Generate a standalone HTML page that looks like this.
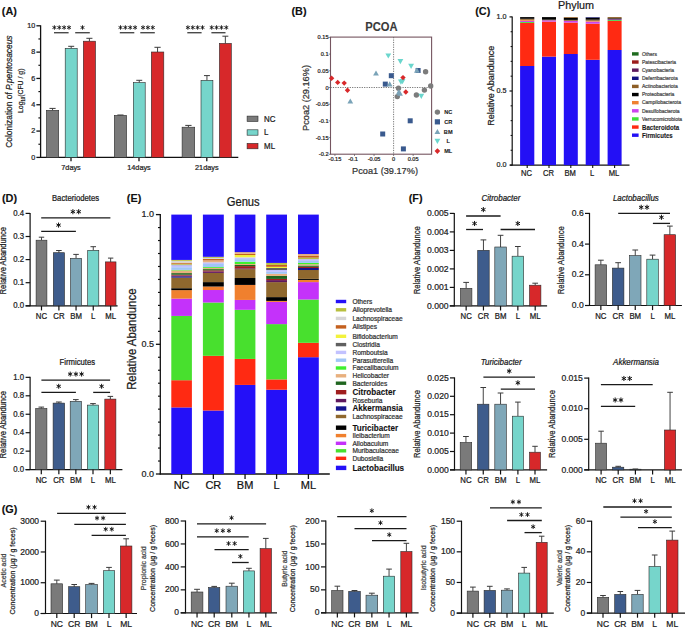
<!DOCTYPE html>
<html><head><meta charset="utf-8"><title>Figure</title>
<style>
html,body{margin:0;padding:0;background:#fff;}
body{width:685px;height:628px;overflow:hidden;}
svg{display:block;font-family:"Liberation Sans",sans-serif;}
text{stroke:currentColor;stroke-width:0.22px;}
</style></head>
<body>
<svg width="685" height="628" viewBox="0 0 685 628">
<rect width="685" height="628" fill="#fff"/>
<text x="0" y="0" font-size="10.9" font-weight="bold" style="stroke-width:0.1px" fill="#111" color="#111" transform="translate(1.85 14.80) scale(1 1.07)">(A)</text>
<line x1="40.60" y1="25.30" x2="40.60" y2="157.90" stroke="#111" stroke-width="1.3"/>
<line x1="36.40" y1="157.40" x2="40.60" y2="157.40" stroke="#111" stroke-width="1.3"/>
<text x="0" y="0" font-size="7.2" text-anchor="end" fill="#222" color="#222" transform="translate(35.20 159.63) scale(1 1.07)">0</text>
<line x1="36.40" y1="131.08" x2="40.60" y2="131.08" stroke="#111" stroke-width="1.3"/>
<text x="0" y="0" font-size="7.2" text-anchor="end" fill="#222" color="#222" transform="translate(35.20 133.31) scale(1 1.07)">2</text>
<line x1="36.40" y1="104.76" x2="40.60" y2="104.76" stroke="#111" stroke-width="1.3"/>
<text x="0" y="0" font-size="7.2" text-anchor="end" fill="#222" color="#222" transform="translate(35.20 106.99) scale(1 1.07)">4</text>
<line x1="36.40" y1="78.44" x2="40.60" y2="78.44" stroke="#111" stroke-width="1.3"/>
<text x="0" y="0" font-size="7.2" text-anchor="end" fill="#222" color="#222" transform="translate(35.20 80.67) scale(1 1.07)">6</text>
<line x1="36.40" y1="52.12" x2="40.60" y2="52.12" stroke="#111" stroke-width="1.3"/>
<text x="0" y="0" font-size="7.2" text-anchor="end" fill="#222" color="#222" transform="translate(35.20 54.35) scale(1 1.07)">8</text>
<line x1="36.40" y1="25.80" x2="40.60" y2="25.80" stroke="#111" stroke-width="1.3"/>
<text x="0" y="0" font-size="7.2" text-anchor="end" fill="#222" color="#222" transform="translate(35.20 28.03) scale(1 1.07)">10</text>
<line x1="38.40" y1="144.24" x2="40.60" y2="144.24" stroke="#111" stroke-width="1.1700000000000002"/>
<line x1="38.40" y1="117.92" x2="40.60" y2="117.92" stroke="#111" stroke-width="1.1700000000000002"/>
<line x1="38.40" y1="91.60" x2="40.60" y2="91.60" stroke="#111" stroke-width="1.1700000000000002"/>
<line x1="38.40" y1="65.28" x2="40.60" y2="65.28" stroke="#111" stroke-width="1.1700000000000002"/>
<line x1="38.40" y1="38.96" x2="40.60" y2="38.96" stroke="#111" stroke-width="1.1700000000000002"/>
<line x1="40.00" y1="157.40" x2="238.30" y2="157.40" stroke="#111" stroke-width="1.3"/>
<line x1="71.00" y1="157.40" x2="71.00" y2="161.30" stroke="#111" stroke-width="1.3"/>
<text x="0" y="0" font-size="7.3" text-anchor="middle" fill="#222" color="#222" transform="translate(71.00 169.60) scale(1 1.07)">7days</text>
<line x1="139.00" y1="157.40" x2="139.00" y2="161.30" stroke="#111" stroke-width="1.3"/>
<text x="0" y="0" font-size="7.3" text-anchor="middle" fill="#222" color="#222" transform="translate(139.00 169.60) scale(1 1.07)">14days</text>
<line x1="206.80" y1="157.40" x2="206.80" y2="161.30" stroke="#111" stroke-width="1.3"/>
<text x="0" y="0" font-size="7.3" text-anchor="middle" fill="#222" color="#222" transform="translate(206.80 169.60) scale(1 1.07)">21days</text>
<line x1="52.55" y1="110.30" x2="52.55" y2="108.40" stroke="#3a3a3a" stroke-width="0.95"/>
<line x1="49.47" y1="108.40" x2="55.62" y2="108.40" stroke="#3a3a3a" stroke-width="1.0"/>
<rect x="46.40" y="110.30" width="12.30" height="47.10" fill="#7a7a7a" stroke="#2a2a2a" stroke-width="0.6"/>
<line x1="71.20" y1="48.30" x2="71.20" y2="46.30" stroke="#3a3a3a" stroke-width="0.95"/>
<line x1="68.20" y1="46.30" x2="74.20" y2="46.30" stroke="#3a3a3a" stroke-width="1.0"/>
<rect x="65.20" y="48.30" width="12.00" height="109.10" fill="#76d5cb" stroke="#2a2a2a" stroke-width="0.6"/>
<line x1="89.40" y1="41.20" x2="89.40" y2="38.30" stroke="#3a3a3a" stroke-width="0.95"/>
<line x1="86.35" y1="38.30" x2="92.45" y2="38.30" stroke="#3a3a3a" stroke-width="1.0"/>
<rect x="83.30" y="41.20" width="12.20" height="116.20" fill="#d7282a" stroke="#2a2a2a" stroke-width="0.6"/>
<line x1="120.45" y1="115.40" x2="120.45" y2="115.00" stroke="#3a3a3a" stroke-width="0.95"/>
<line x1="117.37" y1="115.00" x2="123.52" y2="115.00" stroke="#3a3a3a" stroke-width="1.0"/>
<rect x="114.30" y="115.40" width="12.30" height="42.00" fill="#7a7a7a" stroke="#2a2a2a" stroke-width="0.6"/>
<line x1="139.25" y1="82.60" x2="139.25" y2="80.30" stroke="#3a3a3a" stroke-width="0.95"/>
<line x1="136.28" y1="80.30" x2="142.22" y2="80.30" stroke="#3a3a3a" stroke-width="1.0"/>
<rect x="133.30" y="82.60" width="11.90" height="74.80" fill="#76d5cb" stroke="#2a2a2a" stroke-width="0.6"/>
<line x1="157.55" y1="52.00" x2="157.55" y2="47.30" stroke="#3a3a3a" stroke-width="0.95"/>
<line x1="154.43" y1="47.30" x2="160.68" y2="47.30" stroke="#3a3a3a" stroke-width="1.0"/>
<rect x="151.30" y="52.00" width="12.50" height="105.40" fill="#d7282a" stroke="#2a2a2a" stroke-width="0.6"/>
<line x1="188.40" y1="127.20" x2="188.40" y2="125.40" stroke="#3a3a3a" stroke-width="0.95"/>
<line x1="185.25" y1="125.40" x2="191.55" y2="125.40" stroke="#3a3a3a" stroke-width="1.0"/>
<rect x="182.10" y="127.20" width="12.60" height="30.20" fill="#7a7a7a" stroke="#2a2a2a" stroke-width="0.6"/>
<line x1="206.95" y1="80.40" x2="206.95" y2="75.60" stroke="#3a3a3a" stroke-width="0.95"/>
<line x1="203.97" y1="75.60" x2="209.92" y2="75.60" stroke="#3a3a3a" stroke-width="1.0"/>
<rect x="201.00" y="80.40" width="11.90" height="77.00" fill="#76d5cb" stroke="#2a2a2a" stroke-width="0.6"/>
<line x1="225.35" y1="43.40" x2="225.35" y2="36.20" stroke="#3a3a3a" stroke-width="0.95"/>
<line x1="222.38" y1="36.20" x2="228.33" y2="36.20" stroke="#3a3a3a" stroke-width="1.0"/>
<rect x="219.40" y="43.40" width="11.90" height="114.00" fill="#d7282a" stroke="#2a2a2a" stroke-width="0.6"/>
<line x1="54.00" y1="32.70" x2="68.60" y2="32.70" stroke="#4a4a4a" stroke-width="1.4"/>
<path d="M54.40 29.74L54.40 25.26M52.46 28.62L56.33 26.38M52.46 26.38L56.33 28.62M59.27 29.74L59.27 25.26M57.33 28.62L61.20 26.38M57.33 26.38L61.20 28.62M64.14 29.74L64.14 25.26M62.20 28.62L66.07 26.38M62.20 26.38L66.07 28.62M69.00 29.74L69.00 25.26M67.07 28.62L70.94 26.38M67.07 26.38L70.94 28.62" stroke="#111" stroke-width="0.88" fill="none"/>
<line x1="75.20" y1="32.70" x2="89.80" y2="32.70" stroke="#4a4a4a" stroke-width="1.4"/>
<path d="M82.50 29.74L82.50 25.26M80.56 28.62L84.44 26.38M80.56 26.38L84.44 28.62" stroke="#111" stroke-width="0.88" fill="none"/>
<line x1="119.80" y1="32.70" x2="134.30" y2="32.70" stroke="#4a4a4a" stroke-width="1.4"/>
<path d="M120.50 29.74L120.50 25.26M118.56 28.62L122.43 26.38M118.56 26.38L122.43 28.62M125.36 29.74L125.36 25.26M123.43 28.62L127.30 26.38M123.43 26.38L127.30 28.62M130.23 29.74L130.23 25.26M128.30 28.62L132.17 26.38M128.30 26.38L132.17 28.62M135.10 29.74L135.10 25.26M133.17 28.62L137.04 26.38M133.17 26.38L137.04 28.62" stroke="#111" stroke-width="0.88" fill="none"/>
<line x1="140.30" y1="32.70" x2="154.80" y2="32.70" stroke="#4a4a4a" stroke-width="1.4"/>
<path d="M143.03 29.74L143.03 25.26M141.09 28.62L144.97 26.38M141.09 26.38L144.97 28.62M147.90 29.74L147.90 25.26M145.96 28.62L149.84 26.38M145.96 26.38L149.84 28.62M152.77 29.74L152.77 25.26M150.83 28.62L154.71 26.38M150.83 26.38L154.71 28.62" stroke="#111" stroke-width="0.88" fill="none"/>
<line x1="187.30" y1="32.70" x2="201.60" y2="32.70" stroke="#4a4a4a" stroke-width="1.4"/>
<path d="M187.89 29.74L187.89 25.26M185.96 28.62L189.83 26.38M185.96 26.38L189.83 28.62M192.76 29.74L192.76 25.26M190.83 28.62L194.70 26.38M190.83 26.38L194.70 28.62M197.63 29.74L197.63 25.26M195.70 28.62L199.57 26.38M195.70 26.38L199.57 28.62M202.50 29.74L202.50 25.26M200.57 28.62L204.44 26.38M200.57 26.38L204.44 28.62" stroke="#111" stroke-width="0.88" fill="none"/>
<line x1="211.40" y1="32.70" x2="225.50" y2="32.70" stroke="#4a4a4a" stroke-width="1.4"/>
<path d="M211.69 29.74L211.69 25.26M209.76 28.62L213.63 26.38M209.76 26.38L213.63 28.62M216.56 29.74L216.56 25.26M214.63 28.62L218.50 26.38M214.63 26.38L218.50 28.62M221.44 29.74L221.44 25.26M219.50 28.62L223.37 26.38M219.50 26.38L223.37 28.62M226.31 29.74L226.31 25.26M224.37 28.62L228.24 26.38M224.37 26.38L228.24 28.62" stroke="#111" stroke-width="0.88" fill="none"/>
<rect x="247.10" y="116.10" width="10.90" height="5.40" fill="#7a7a7a" stroke="#2a2a2a" stroke-width="0.6"/>
<text x="0" y="0" font-size="7.9" fill="#222" color="#222" transform="translate(264.10 121.70) scale(1 1.07)">NC</text>
<rect x="247.10" y="129.80" width="10.90" height="5.40" fill="#76d5cb" stroke="#2a2a2a" stroke-width="0.6"/>
<text x="0" y="0" font-size="7.9" fill="#222" color="#222" transform="translate(264.10 135.40) scale(1 1.07)">L</text>
<rect x="247.10" y="143.40" width="10.90" height="5.40" fill="#d7282a" stroke="#2a2a2a" stroke-width="0.6"/>
<text x="0" y="0" font-size="7.9" fill="#222" color="#222" transform="translate(264.10 149.00) scale(1 1.07)">ML</text>
<text x="0" y="0" font-size="8.4" text-anchor="middle" fill="#222" color="#222" transform="translate(12.00 91.60) rotate(-90) scale(1 1.07)">Colonization of <tspan font-style="italic">P.pentosaceus</tspan></text>
<text x="0" y="0" font-size="6.9" text-anchor="middle" fill="#222" color="#222" transform="translate(23.30 90.80) rotate(-90) scale(1 1.07)">Log<tspan font-size="4.2" dy="1.5">10</tspan><tspan dy="-1.5">(CFU / g)</tspan></text>
<text x="0" y="0" font-size="10.9" font-weight="bold" style="stroke-width:0.1px" fill="#111" color="#111" transform="translate(291.40 14.80) scale(1 1.07)">(B)</text>
<text x="0" y="0" font-size="11.2" text-anchor="middle" font-weight="bold" style="stroke-width:0.1px" fill="#3a3a3a" color="#3a3a3a" transform="translate(381.40 31.40) scale(1 1.07)">PCOA</text>
<rect x="330.5" y="37.1" width="101.10" height="117.10" fill="none" stroke="#755560" stroke-width="1.1"/>
<line x1="393.60" y1="37.10" x2="393.60" y2="154.20" stroke="#666" stroke-width="0.9" stroke-dasharray="1.2 1.2"/>
<line x1="330.50" y1="87.50" x2="431.60" y2="87.50" stroke="#666" stroke-width="0.9" stroke-dasharray="1.2 1.2"/>
<line x1="328.70" y1="37.40" x2="330.50" y2="37.40" stroke="#555" stroke-width="0.7"/>
<text x="0" y="0" font-size="5.6" text-anchor="end" fill="#222" color="#222" transform="translate(328.50 39.40) scale(1 1.07)">0.15</text>
<line x1="328.70" y1="54.10" x2="330.50" y2="54.10" stroke="#555" stroke-width="0.7"/>
<text x="0" y="0" font-size="5.6" text-anchor="end" fill="#222" color="#222" transform="translate(328.50 56.10) scale(1 1.07)">0.1</text>
<line x1="328.70" y1="70.80" x2="330.50" y2="70.80" stroke="#555" stroke-width="0.7"/>
<text x="0" y="0" font-size="5.6" text-anchor="end" fill="#222" color="#222" transform="translate(328.50 72.80) scale(1 1.07)">0.05</text>
<line x1="328.70" y1="87.50" x2="330.50" y2="87.50" stroke="#555" stroke-width="0.7"/>
<text x="0" y="0" font-size="5.6" text-anchor="end" fill="#222" color="#222" transform="translate(328.50 89.50) scale(1 1.07)">0</text>
<line x1="328.70" y1="104.20" x2="330.50" y2="104.20" stroke="#555" stroke-width="0.7"/>
<text x="0" y="0" font-size="5.6" text-anchor="end" fill="#222" color="#222" transform="translate(328.50 106.20) scale(1 1.07)">-0.05</text>
<line x1="328.70" y1="120.90" x2="330.50" y2="120.90" stroke="#555" stroke-width="0.7"/>
<text x="0" y="0" font-size="5.6" text-anchor="end" fill="#222" color="#222" transform="translate(328.50 122.90) scale(1 1.07)">-0.1</text>
<line x1="328.70" y1="137.60" x2="330.50" y2="137.60" stroke="#555" stroke-width="0.7"/>
<text x="0" y="0" font-size="5.6" text-anchor="end" fill="#222" color="#222" transform="translate(328.50 139.60) scale(1 1.07)">-0.15</text>
<line x1="328.70" y1="154.30" x2="330.50" y2="154.30" stroke="#555" stroke-width="0.7"/>
<text x="0" y="0" font-size="5.6" text-anchor="end" fill="#222" color="#222" transform="translate(328.50 156.30) scale(1 1.07)">-0.2</text>
<line x1="334.95" y1="154.20" x2="334.95" y2="156.00" stroke="#555" stroke-width="0.7"/>
<text x="0" y="0" font-size="5.6" text-anchor="middle" fill="#222" color="#222" transform="translate(334.95 160.90) scale(1 1.07)">-0.15</text>
<line x1="354.50" y1="154.20" x2="354.50" y2="156.00" stroke="#555" stroke-width="0.7"/>
<text x="0" y="0" font-size="5.6" text-anchor="middle" fill="#222" color="#222" transform="translate(353.00 160.90) scale(1 1.07)">-0.1</text>
<line x1="374.05" y1="154.20" x2="374.05" y2="156.00" stroke="#555" stroke-width="0.7"/>
<text x="0" y="0" font-size="5.6" text-anchor="middle" fill="#222" color="#222" transform="translate(374.05 160.90) scale(1 1.07)">-0.05</text>
<line x1="393.60" y1="154.20" x2="393.60" y2="156.00" stroke="#555" stroke-width="0.7"/>
<text x="0" y="0" font-size="5.6" text-anchor="middle" fill="#222" color="#222" transform="translate(393.60 160.90) scale(1 1.07)">0</text>
<line x1="413.15" y1="154.20" x2="413.15" y2="156.00" stroke="#555" stroke-width="0.7"/>
<text x="0" y="0" font-size="5.6" text-anchor="middle" fill="#222" color="#222" transform="translate(413.15 160.90) scale(1 1.07)">0.05</text>
<text x="0" y="0" font-size="9.2" text-anchor="middle" fill="#333" color="#333" transform="translate(385.00 174.00) scale(1 1.07)">Pcoa1 (39.17%)</text>
<text x="0" y="0" font-size="9.2" text-anchor="middle" fill="#333" color="#333" transform="translate(309.00 98.00) rotate(-90) scale(1 1.07)">Pcoa2 (29.16%)</text>
<circle cx="425.60" cy="71.70" r="2.7" fill="#7c7c7c"/>
<circle cx="430.70" cy="86.00" r="2.7" fill="#7c7c7c"/>
<circle cx="398.50" cy="88.30" r="2.7" fill="#7c7c7c"/>
<circle cx="424.40" cy="90.10" r="2.7" fill="#7c7c7c"/>
<circle cx="416.40" cy="95.00" r="2.7" fill="#7c7c7c"/>
<circle cx="397.30" cy="96.60" r="2.7" fill="#7c7c7c"/>
<rect x="388.80" y="73.20" width="5.0" height="5.0" fill="#3a5a8e"/>
<rect x="382.80" y="81.60" width="5.0" height="5.0" fill="#3a5a8e"/>
<rect x="415.60" y="68.00" width="5.0" height="5.0" fill="#3a5a8e"/>
<rect x="407.70" y="118.30" width="5.0" height="5.0" fill="#3a5a8e"/>
<rect x="380.20" y="131.50" width="5.0" height="5.0" fill="#3a5a8e"/>
<rect x="400.90" y="146.40" width="5.0" height="5.0" fill="#3a5a8e"/>
<polygon points="376.00,70.39 373.10,75.61 378.90,75.61" fill="#7aa3b8"/>
<polygon points="389.70,81.29 386.80,86.51 392.60,86.51" fill="#7aa3b8"/>
<polygon points="416.90,67.49 414.00,72.71 419.80,72.71" fill="#7aa3b8"/>
<polygon points="398.80,89.19 395.90,94.41 401.70,94.41" fill="#7aa3b8"/>
<polygon points="400.00,90.49 397.10,95.71 402.90,95.71" fill="#7aa3b8"/>
<polygon points="350.30,98.39 347.40,103.61 353.20,103.61" fill="#7aa3b8"/>
<polygon points="385.40,53.39 391.20,53.39 388.30,58.61" fill="#6bd6cd"/>
<polygon points="397.50,59.09 403.30,59.09 400.40,64.31" fill="#6bd6cd"/>
<polygon points="408.20,63.69 414.00,63.69 411.10,68.91" fill="#6bd6cd"/>
<polygon points="398.00,79.59 403.80,79.59 400.90,84.81" fill="#6bd6cd"/>
<polygon points="399.60,78.99 405.40,78.99 402.50,84.21" fill="#6bd6cd"/>
<polygon points="418.40,93.79 424.20,93.79 421.30,99.01" fill="#6bd6cd"/>
<polygon points="331.60,75.60 334.30,78.30 331.60,81.00 328.90,78.30" fill="#d8282a"/>
<polygon points="337.70,79.70 340.40,82.40 337.70,85.10 335.00,82.40" fill="#d8282a"/>
<polygon points="344.20,80.40 346.90,83.10 344.20,85.80 341.50,83.10" fill="#d8282a"/>
<polygon points="347.50,87.60 350.20,90.30 347.50,93.00 344.80,90.30" fill="#d8282a"/>
<polygon points="403.00,74.90 405.70,77.60 403.00,80.30 400.30,77.60" fill="#d8282a"/>
<polygon points="405.80,89.30 408.50,92.00 405.80,94.70 403.10,92.00" fill="#d8282a"/>
<circle cx="437.40" cy="112.10" r="2.7" fill="#7c7c7c"/>
<text x="0" y="0" font-size="5.6" text-anchor="middle" font-weight="bold" style="stroke-width:0.1px" fill="#1a1a1a" color="#1a1a1a" transform="translate(448.20 114.10) scale(1 1.07)">NC</text>
<rect x="434.80" y="119.25" width="5.2" height="5.2" fill="#3a5a8e"/>
<text x="0" y="0" font-size="5.6" text-anchor="middle" font-weight="bold" style="stroke-width:0.1px" fill="#1a1a1a" color="#1a1a1a" transform="translate(448.20 123.85) scale(1 1.07)">CR</text>
<polygon points="437.40,128.89 434.50,134.11 440.30,134.11" fill="#7aa3b8"/>
<text x="0" y="0" font-size="5.6" text-anchor="middle" font-weight="bold" style="stroke-width:0.1px" fill="#1a1a1a" color="#1a1a1a" transform="translate(448.20 133.60) scale(1 1.07)">BM</text>
<polygon points="434.50,138.84 440.30,138.84 437.40,144.06" fill="#6bd6cd"/>
<text x="0" y="0" font-size="5.6" text-anchor="middle" font-weight="bold" style="stroke-width:0.1px" fill="#1a1a1a" color="#1a1a1a" transform="translate(448.20 143.35) scale(1 1.07)">L</text>
<polygon points="437.40,148.30 440.20,151.10 437.40,153.90 434.60,151.10" fill="#d8282a"/>
<text x="0" y="0" font-size="5.6" text-anchor="middle" font-weight="bold" style="stroke-width:0.1px" fill="#1a1a1a" color="#1a1a1a" transform="translate(448.20 153.10) scale(1 1.07)">ML</text>
<text x="0" y="0" font-size="10.9" font-weight="bold" style="stroke-width:0.1px" fill="#111" color="#111" transform="translate(475.25 14.70) scale(1 1.07)">(C)</text>
<text x="0" y="0" font-size="10.8" text-anchor="middle" fill="#1a1a1a" color="#1a1a1a" transform="translate(576.10 9.30) scale(1 1.07)">Phylum</text>
<line x1="512.20" y1="16.40" x2="512.20" y2="165.60" stroke="#111" stroke-width="1.2"/>
<line x1="509.50" y1="165.10" x2="512.20" y2="165.10" stroke="#111" stroke-width="1.2"/>
<text x="0" y="0" font-size="7.2" text-anchor="end" fill="#222" color="#222" transform="translate(506.60 167.33) scale(1 1.07)">0.0</text>
<line x1="509.50" y1="91.00" x2="512.20" y2="91.00" stroke="#111" stroke-width="1.2"/>
<text x="0" y="0" font-size="7.2" text-anchor="end" fill="#222" color="#222" transform="translate(506.60 93.23) scale(1 1.07)">0.5</text>
<line x1="509.50" y1="16.90" x2="512.20" y2="16.90" stroke="#111" stroke-width="1.2"/>
<text x="0" y="0" font-size="7.2" text-anchor="end" fill="#222" color="#222" transform="translate(506.60 19.13) scale(1 1.07)">1.0</text>
<line x1="510.60" y1="150.28" x2="512.20" y2="150.28" stroke="#111" stroke-width="1.08"/>
<line x1="510.60" y1="135.46" x2="512.20" y2="135.46" stroke="#111" stroke-width="1.08"/>
<line x1="510.60" y1="120.64" x2="512.20" y2="120.64" stroke="#111" stroke-width="1.08"/>
<line x1="510.60" y1="105.82" x2="512.20" y2="105.82" stroke="#111" stroke-width="1.08"/>
<line x1="510.60" y1="76.18" x2="512.20" y2="76.18" stroke="#111" stroke-width="1.08"/>
<line x1="510.60" y1="61.36" x2="512.20" y2="61.36" stroke="#111" stroke-width="1.08"/>
<line x1="510.60" y1="46.54" x2="512.20" y2="46.54" stroke="#111" stroke-width="1.08"/>
<line x1="510.60" y1="31.72" x2="512.20" y2="31.72" stroke="#111" stroke-width="1.08"/>
<line x1="510.10" y1="165.10" x2="629.50" y2="165.10" stroke="#111" stroke-width="1.2"/>
<rect x="520.10" y="66.00" width="14.20" height="99.10" fill="#2310f5"/>
<rect x="520.10" y="22.90" width="14.20" height="43.10" fill="#ff2a12"/>
<rect x="520.10" y="22.00" width="14.20" height="0.90" fill="#3fe03a"/>
<rect x="520.10" y="20.80" width="14.20" height="1.20" fill="#cc44ee"/>
<rect x="520.10" y="19.80" width="14.20" height="1.00" fill="#ef8030"/>
<rect x="520.10" y="18.80" width="14.20" height="1.00" fill="#8d5e26"/>
<rect x="520.10" y="17.10" width="14.20" height="1.70" fill="#000000"/>
<line x1="527.20" y1="165.10" x2="527.20" y2="168.10" stroke="#111" stroke-width="1.1"/>
<text x="0" y="0" font-size="7.6" text-anchor="middle" fill="#222" color="#222" transform="translate(526.60 175.60) scale(1 1.07)">NC</text>
<rect x="542.00" y="56.60" width="14.00" height="108.50" fill="#2310f5"/>
<rect x="542.00" y="21.60" width="14.00" height="35.00" fill="#ff2a12"/>
<rect x="542.00" y="20.30" width="14.00" height="1.30" fill="#cc44ee"/>
<rect x="542.00" y="19.70" width="14.00" height="0.60" fill="#8d5e26"/>
<rect x="542.00" y="17.10" width="14.00" height="2.60" fill="#000000"/>
<line x1="549.00" y1="165.10" x2="549.00" y2="168.10" stroke="#111" stroke-width="1.1"/>
<text x="0" y="0" font-size="7.6" text-anchor="middle" fill="#222" color="#222" transform="translate(548.40 175.60) scale(1 1.07)">CR</text>
<rect x="563.80" y="54.00" width="14.00" height="111.10" fill="#2310f5"/>
<rect x="563.80" y="22.60" width="14.00" height="31.40" fill="#ff2a12"/>
<rect x="563.80" y="20.80" width="14.00" height="1.80" fill="#cc44ee"/>
<rect x="563.80" y="19.90" width="14.00" height="0.90" fill="#8d5e26"/>
<rect x="563.80" y="17.90" width="14.00" height="2.00" fill="#000000"/>
<rect x="563.80" y="17.10" width="14.00" height="0.80" fill="#8d5e26"/>
<line x1="570.80" y1="165.10" x2="570.80" y2="168.10" stroke="#111" stroke-width="1.1"/>
<text x="0" y="0" font-size="7.6" text-anchor="middle" fill="#222" color="#222" transform="translate(570.20 175.60) scale(1 1.07)">BM</text>
<rect x="585.70" y="59.80" width="14.00" height="105.30" fill="#2310f5"/>
<rect x="585.70" y="23.70" width="14.00" height="36.10" fill="#ff2a12"/>
<rect x="585.70" y="21.60" width="14.00" height="2.10" fill="#cc44ee"/>
<rect x="585.70" y="20.80" width="14.00" height="0.80" fill="#ef8030"/>
<rect x="585.70" y="19.70" width="14.00" height="1.10" fill="#8d5e26"/>
<rect x="585.70" y="17.60" width="14.00" height="2.10" fill="#000000"/>
<rect x="585.70" y="17.10" width="14.00" height="0.50" fill="#121280"/>
<line x1="592.70" y1="165.10" x2="592.70" y2="168.10" stroke="#111" stroke-width="1.1"/>
<text x="0" y="0" font-size="7.6" text-anchor="middle" fill="#222" color="#222" transform="translate(592.10 175.60) scale(1 1.07)">L</text>
<rect x="607.60" y="50.00" width="14.00" height="115.10" fill="#2310f5"/>
<rect x="607.60" y="21.00" width="14.00" height="29.00" fill="#ff2a12"/>
<rect x="607.60" y="20.10" width="14.00" height="0.90" fill="#3fe03a"/>
<rect x="607.60" y="19.40" width="14.00" height="0.70" fill="#cc44ee"/>
<rect x="607.60" y="18.30" width="14.00" height="1.10" fill="#000000"/>
<rect x="607.60" y="17.10" width="14.00" height="1.20" fill="#8d5e26"/>
<line x1="614.60" y1="165.10" x2="614.60" y2="168.10" stroke="#111" stroke-width="1.1"/>
<text x="0" y="0" font-size="7.6" text-anchor="middle" fill="#222" color="#222" transform="translate(614.00 175.60) scale(1 1.07)">ML</text>
<text x="0" y="0" font-size="9.0" text-anchor="middle" fill="#222" color="#222" transform="translate(493.70 85.80) rotate(-90) scale(1 1.07)">Relative Abandunce</text>
<rect x="632.00" y="52.20" width="6.60" height="3.40" fill="#1f6b1f"/>
<text x="0" y="0" font-size="5.0" fill="#4a4a4a" color="#4a4a4a" transform="translate(642.00 55.70) scale(1 1.07)">Others</text>
<rect x="632.00" y="60.33" width="6.60" height="3.40" fill="#9c1c1c"/>
<text x="0" y="0" font-size="5.0" fill="#4a4a4a" color="#4a4a4a" transform="translate(642.00 63.83) scale(1 1.07)">Patescibacteria</text>
<rect x="632.00" y="68.46" width="6.60" height="3.40" fill="#5d1a5d"/>
<text x="0" y="0" font-size="5.0" fill="#4a4a4a" color="#4a4a4a" transform="translate(642.00 71.96) scale(1 1.07)">Cyanobacteria</text>
<rect x="632.00" y="76.59" width="6.60" height="3.40" fill="#121280"/>
<text x="0" y="0" font-size="5.0" fill="#4a4a4a" color="#4a4a4a" transform="translate(642.00 80.09) scale(1 1.07)">Deferribacterota</text>
<rect x="632.00" y="84.72" width="6.60" height="3.40" fill="#8d5e26"/>
<text x="0" y="0" font-size="5.0" fill="#4a4a4a" color="#4a4a4a" transform="translate(642.00 88.22) scale(1 1.07)">Actinobacteriota</text>
<rect x="632.00" y="92.85" width="6.60" height="3.40" fill="#000000"/>
<text x="0" y="0" font-size="5.0" fill="#4a4a4a" color="#4a4a4a" transform="translate(642.00 96.35) scale(1 1.07)">Proteobacteria</text>
<rect x="632.00" y="100.98" width="6.60" height="3.40" fill="#ef8030"/>
<text x="0" y="0" font-size="5.0" fill="#4a4a4a" color="#4a4a4a" transform="translate(642.00 104.48) scale(1 1.07)">Campilobacterota</text>
<rect x="632.00" y="109.11" width="6.60" height="3.40" fill="#cc44ee"/>
<text x="0" y="0" font-size="5.0" fill="#4a4a4a" color="#4a4a4a" transform="translate(642.00 112.61) scale(1 1.07)">Desulfobacterota</text>
<rect x="632.00" y="117.24" width="6.60" height="3.40" fill="#3fe03a"/>
<text x="0" y="0" font-size="5.0" fill="#4a4a4a" color="#4a4a4a" transform="translate(642.00 120.74) scale(1 1.07)">Verrucomicrobiota</text>
<rect x="632.00" y="125.37" width="6.60" height="3.40" fill="#ff2a12"/>
<text x="0" y="0" font-size="6.1" font-weight="bold" style="stroke-width:0.1px" fill="#1a1a1a" color="#1a1a1a" transform="translate(642.00 129.87) scale(1 1.07)">Bacteroidota</text>
<rect x="632.00" y="133.50" width="6.60" height="3.40" fill="#2310f5"/>
<text x="0" y="0" font-size="6.1" font-weight="bold" style="stroke-width:0.1px" fill="#1a1a1a" color="#1a1a1a" transform="translate(642.00 138.00) scale(1 1.07)">Firmicutes</text>
<text x="0" y="0" font-size="10.9" font-weight="bold" style="stroke-width:0.1px" fill="#111" color="#111" transform="translate(1.95 201.90) scale(1 1.07)">(D)</text>
<text x="0" y="0" font-size="7.7" text-anchor="middle" fill="#1a1a1a" color="#1a1a1a" transform="translate(75.50 201.10) scale(1 1.07)">Bacteriodetes</text>
<line x1="30.10" y1="212.90" x2="30.10" y2="306.30" stroke="#111" stroke-width="1.2"/>
<line x1="25.60" y1="305.80" x2="30.10" y2="305.80" stroke="#111" stroke-width="1.2"/>
<text x="0" y="0" font-size="7.8" text-anchor="end" fill="#222" color="#222" transform="translate(24.00 308.22) scale(1 1.07)">0.0</text>
<line x1="25.60" y1="282.70" x2="30.10" y2="282.70" stroke="#111" stroke-width="1.2"/>
<text x="0" y="0" font-size="7.8" text-anchor="end" fill="#222" color="#222" transform="translate(24.00 285.12) scale(1 1.07)">0.1</text>
<line x1="25.60" y1="259.60" x2="30.10" y2="259.60" stroke="#111" stroke-width="1.2"/>
<text x="0" y="0" font-size="7.8" text-anchor="end" fill="#222" color="#222" transform="translate(24.00 262.02) scale(1 1.07)">0.2</text>
<line x1="25.60" y1="236.50" x2="30.10" y2="236.50" stroke="#111" stroke-width="1.2"/>
<text x="0" y="0" font-size="7.8" text-anchor="end" fill="#222" color="#222" transform="translate(24.00 238.92) scale(1 1.07)">0.3</text>
<line x1="25.60" y1="213.40" x2="30.10" y2="213.40" stroke="#111" stroke-width="1.2"/>
<text x="0" y="0" font-size="7.8" text-anchor="end" fill="#222" color="#222" transform="translate(24.00 215.82) scale(1 1.07)">0.4</text>
<line x1="25.60" y1="305.80" x2="117.60" y2="305.80" stroke="#111" stroke-width="1.2"/>
<line x1="41.50" y1="240.20" x2="41.50" y2="237.20" stroke="#3a3a3a" stroke-width="0.95"/>
<line x1="38.80" y1="237.20" x2="44.20" y2="237.20" stroke="#3a3a3a" stroke-width="1.0"/>
<rect x="36.10" y="240.20" width="10.80" height="65.60" fill="#7a7a7a" stroke="#2a2a2a" stroke-width="0.6"/>
<line x1="41.50" y1="305.80" x2="41.50" y2="310.40" stroke="#111" stroke-width="1.2"/>
<text x="0" y="0" font-size="7.8" text-anchor="middle" fill="#1a1a1a" color="#1a1a1a" transform="translate(41.50 318.60) scale(1 1.07)">NC</text>
<line x1="58.90" y1="252.70" x2="58.90" y2="250.50" stroke="#3a3a3a" stroke-width="0.95"/>
<line x1="56.10" y1="250.50" x2="61.70" y2="250.50" stroke="#3a3a3a" stroke-width="1.0"/>
<rect x="53.30" y="252.70" width="11.20" height="53.10" fill="#3e5c8c" stroke="#2a2a2a" stroke-width="0.6"/>
<line x1="58.90" y1="305.80" x2="58.90" y2="310.40" stroke="#111" stroke-width="1.2"/>
<text x="0" y="0" font-size="7.8" text-anchor="middle" fill="#1a1a1a" color="#1a1a1a" transform="translate(58.90 318.60) scale(1 1.07)">CR</text>
<line x1="76.05" y1="258.30" x2="76.05" y2="254.40" stroke="#3a3a3a" stroke-width="0.95"/>
<line x1="73.28" y1="254.40" x2="78.82" y2="254.40" stroke="#3a3a3a" stroke-width="1.0"/>
<rect x="70.50" y="258.30" width="11.10" height="47.50" fill="#7fa7b8" stroke="#2a2a2a" stroke-width="0.6"/>
<line x1="76.05" y1="305.80" x2="76.05" y2="310.40" stroke="#111" stroke-width="1.2"/>
<text x="0" y="0" font-size="7.8" text-anchor="middle" fill="#1a1a1a" color="#1a1a1a" transform="translate(76.05 318.60) scale(1 1.07)">BM</text>
<line x1="93.25" y1="250.30" x2="93.25" y2="246.70" stroke="#3a3a3a" stroke-width="0.95"/>
<line x1="90.47" y1="246.70" x2="96.03" y2="246.70" stroke="#3a3a3a" stroke-width="1.0"/>
<rect x="87.70" y="250.30" width="11.10" height="55.50" fill="#76d5cb" stroke="#2a2a2a" stroke-width="0.6"/>
<line x1="93.25" y1="305.80" x2="93.25" y2="310.40" stroke="#111" stroke-width="1.2"/>
<text x="0" y="0" font-size="7.8" text-anchor="middle" fill="#1a1a1a" color="#1a1a1a" transform="translate(93.25 318.60) scale(1 1.07)">L</text>
<line x1="110.65" y1="261.90" x2="110.65" y2="258.10" stroke="#3a3a3a" stroke-width="0.95"/>
<line x1="107.98" y1="258.10" x2="113.33" y2="258.10" stroke="#3a3a3a" stroke-width="1.0"/>
<rect x="105.30" y="261.90" width="10.70" height="43.90" fill="#d7282a" stroke="#2a2a2a" stroke-width="0.6"/>
<line x1="110.65" y1="305.80" x2="110.65" y2="310.40" stroke="#111" stroke-width="1.2"/>
<text x="0" y="0" font-size="7.8" text-anchor="middle" fill="#1a1a1a" color="#1a1a1a" transform="translate(110.65 318.60) scale(1 1.07)">ML</text>
<line x1="41.20" y1="217.90" x2="110.40" y2="217.90" stroke="#1a1a1a" stroke-width="1.3"/>
<path d="M72.90 214.24L72.90 209.16M70.70 212.97L75.10 210.43M70.70 210.43L75.10 212.97M78.70 214.24L78.70 209.16M76.50 212.97L80.90 210.43M76.50 210.43L80.90 212.97" stroke="#111" stroke-width="1.00" fill="none"/>
<line x1="41.20" y1="231.30" x2="75.90" y2="231.30" stroke="#1a1a1a" stroke-width="1.3"/>
<path d="M58.55 227.64L58.55 222.56M56.35 226.37L60.75 223.83M56.35 223.83L60.75 226.37" stroke="#111" stroke-width="1.00" fill="none"/>
<text x="0" y="0" font-size="7.6" text-anchor="middle" fill="#222" color="#222" transform="translate(6.30 260.75) rotate(-90) scale(1 1.07)">Relative Abandunce</text>
<text x="0" y="0" font-size="7.7" text-anchor="middle" fill="#1a1a1a" color="#1a1a1a" transform="translate(77.30 365.20) scale(1 1.07)">Firmicutes</text>
<line x1="30.10" y1="376.85" x2="30.10" y2="470.10" stroke="#111" stroke-width="1.2"/>
<line x1="25.60" y1="469.60" x2="30.10" y2="469.60" stroke="#111" stroke-width="1.2"/>
<text x="0" y="0" font-size="7.8" text-anchor="end" fill="#222" color="#222" transform="translate(24.00 472.02) scale(1 1.07)">0.0</text>
<line x1="25.60" y1="451.15" x2="30.10" y2="451.15" stroke="#111" stroke-width="1.2"/>
<text x="0" y="0" font-size="7.8" text-anchor="end" fill="#222" color="#222" transform="translate(24.00 453.57) scale(1 1.07)">0.2</text>
<line x1="25.60" y1="432.70" x2="30.10" y2="432.70" stroke="#111" stroke-width="1.2"/>
<text x="0" y="0" font-size="7.8" text-anchor="end" fill="#222" color="#222" transform="translate(24.00 435.12) scale(1 1.07)">0.4</text>
<line x1="25.60" y1="414.25" x2="30.10" y2="414.25" stroke="#111" stroke-width="1.2"/>
<text x="0" y="0" font-size="7.8" text-anchor="end" fill="#222" color="#222" transform="translate(24.00 416.67) scale(1 1.07)">0.6</text>
<line x1="25.60" y1="395.80" x2="30.10" y2="395.80" stroke="#111" stroke-width="1.2"/>
<text x="0" y="0" font-size="7.8" text-anchor="end" fill="#222" color="#222" transform="translate(24.00 398.22) scale(1 1.07)">0.8</text>
<line x1="25.60" y1="377.35" x2="30.10" y2="377.35" stroke="#111" stroke-width="1.2"/>
<text x="0" y="0" font-size="7.8" text-anchor="end" fill="#222" color="#222" transform="translate(24.00 379.77) scale(1 1.07)">1.0</text>
<line x1="25.60" y1="469.60" x2="122.40" y2="469.60" stroke="#111" stroke-width="1.2"/>
<line x1="41.30" y1="408.50" x2="41.30" y2="407.10" stroke="#3a3a3a" stroke-width="0.95"/>
<line x1="38.50" y1="407.10" x2="44.10" y2="407.10" stroke="#3a3a3a" stroke-width="1.0"/>
<rect x="35.70" y="408.50" width="11.20" height="61.10" fill="#7a7a7a" stroke="#2a2a2a" stroke-width="0.6"/>
<line x1="41.30" y1="469.60" x2="41.30" y2="474.20" stroke="#111" stroke-width="1.2"/>
<text x="0" y="0" font-size="7.8" text-anchor="middle" fill="#1a1a1a" color="#1a1a1a" transform="translate(41.30 483.30) scale(1 1.07)">NC</text>
<line x1="58.85" y1="403.10" x2="58.85" y2="402.00" stroke="#3a3a3a" stroke-width="0.95"/>
<line x1="55.97" y1="402.00" x2="61.72" y2="402.00" stroke="#3a3a3a" stroke-width="1.0"/>
<rect x="53.10" y="403.10" width="11.50" height="66.50" fill="#3e5c8c" stroke="#2a2a2a" stroke-width="0.6"/>
<line x1="58.85" y1="469.60" x2="58.85" y2="474.20" stroke="#111" stroke-width="1.2"/>
<text x="0" y="0" font-size="7.8" text-anchor="middle" fill="#1a1a1a" color="#1a1a1a" transform="translate(58.85 483.30) scale(1 1.07)">CR</text>
<line x1="75.85" y1="401.30" x2="75.85" y2="399.60" stroke="#3a3a3a" stroke-width="0.95"/>
<line x1="73.02" y1="399.60" x2="78.67" y2="399.60" stroke="#3a3a3a" stroke-width="1.0"/>
<rect x="70.20" y="401.30" width="11.30" height="68.30" fill="#7fa7b8" stroke="#2a2a2a" stroke-width="0.6"/>
<line x1="75.85" y1="469.60" x2="75.85" y2="474.20" stroke="#111" stroke-width="1.2"/>
<text x="0" y="0" font-size="7.8" text-anchor="middle" fill="#1a1a1a" color="#1a1a1a" transform="translate(75.85 483.30) scale(1 1.07)">BM</text>
<line x1="93.00" y1="405.10" x2="93.00" y2="403.60" stroke="#3a3a3a" stroke-width="0.95"/>
<line x1="90.20" y1="403.60" x2="95.80" y2="403.60" stroke="#3a3a3a" stroke-width="1.0"/>
<rect x="87.40" y="405.10" width="11.20" height="64.50" fill="#76d5cb" stroke="#2a2a2a" stroke-width="0.6"/>
<line x1="93.00" y1="469.60" x2="93.00" y2="474.20" stroke="#111" stroke-width="1.2"/>
<text x="0" y="0" font-size="7.8" text-anchor="middle" fill="#1a1a1a" color="#1a1a1a" transform="translate(93.00 483.30) scale(1 1.07)">L</text>
<line x1="110.35" y1="399.10" x2="110.35" y2="396.40" stroke="#3a3a3a" stroke-width="0.95"/>
<line x1="107.57" y1="396.40" x2="113.12" y2="396.40" stroke="#3a3a3a" stroke-width="1.0"/>
<rect x="104.80" y="399.10" width="11.10" height="70.50" fill="#d7282a" stroke="#2a2a2a" stroke-width="0.6"/>
<line x1="110.35" y1="469.60" x2="110.35" y2="474.20" stroke="#111" stroke-width="1.2"/>
<text x="0" y="0" font-size="7.8" text-anchor="middle" fill="#1a1a1a" color="#1a1a1a" transform="translate(110.35 483.30) scale(1 1.07)">ML</text>
<line x1="41.40" y1="380.20" x2="110.10" y2="380.20" stroke="#1a1a1a" stroke-width="1.3"/>
<path d="M70.20 376.57L70.20 371.63M68.06 375.34L72.34 372.86M68.06 372.86L72.34 375.34M75.90 376.57L75.90 371.63M73.76 375.34L78.04 372.86M73.76 372.86L78.04 375.34M81.60 376.57L81.60 371.63M79.46 375.34L83.74 372.86M79.46 372.86L83.74 375.34" stroke="#111" stroke-width="0.98" fill="none"/>
<line x1="41.40" y1="392.40" x2="75.90" y2="392.40" stroke="#1a1a1a" stroke-width="1.3"/>
<path d="M58.70 388.77L58.70 383.83M56.56 387.54L60.84 385.06M56.56 385.06L60.84 387.54" stroke="#111" stroke-width="0.98" fill="none"/>
<line x1="93.20" y1="392.40" x2="110.10" y2="392.40" stroke="#1a1a1a" stroke-width="1.3"/>
<path d="M101.60 388.77L101.60 383.83M99.46 387.54L103.74 385.06M99.46 385.06L103.74 387.54" stroke="#111" stroke-width="0.98" fill="none"/>
<text x="0" y="0" font-size="7.6" text-anchor="middle" fill="#222" color="#222" transform="translate(6.30 424.70) rotate(-90) scale(1 1.07)">Relative Abandunce</text>
<text x="0" y="0" font-size="10.9" font-weight="bold" style="stroke-width:0.1px" fill="#111" color="#111" transform="translate(126.85 201.50) scale(1 1.07)">(E)</text>
<text x="0" y="0" font-size="11.2" text-anchor="middle" fill="#1a1a1a" color="#1a1a1a" transform="translate(243.20 206.40) scale(1 1.07)">Genus</text>
<line x1="160.30" y1="214.10" x2="160.30" y2="474.50" stroke="#111" stroke-width="1.3"/>
<line x1="155.90" y1="474.00" x2="160.30" y2="474.00" stroke="#111" stroke-width="1.3"/>
<text x="0" y="0" font-size="9.0" text-anchor="end" fill="#222" color="#222" transform="translate(153.90 476.79) scale(1 1.07)">0.0</text>
<line x1="155.90" y1="344.30" x2="160.30" y2="344.30" stroke="#111" stroke-width="1.3"/>
<text x="0" y="0" font-size="9.0" text-anchor="end" fill="#222" color="#222" transform="translate(153.90 347.09) scale(1 1.07)">0.5</text>
<line x1="155.90" y1="214.60" x2="160.30" y2="214.60" stroke="#111" stroke-width="1.3"/>
<text x="0" y="0" font-size="9.0" text-anchor="end" fill="#222" color="#222" transform="translate(153.90 217.39) scale(1 1.07)">1.0</text>
<line x1="158.00" y1="461.03" x2="160.30" y2="461.03" stroke="#111" stroke-width="1.1700000000000002"/>
<line x1="158.00" y1="448.06" x2="160.30" y2="448.06" stroke="#111" stroke-width="1.1700000000000002"/>
<line x1="158.00" y1="435.09" x2="160.30" y2="435.09" stroke="#111" stroke-width="1.1700000000000002"/>
<line x1="158.00" y1="422.12" x2="160.30" y2="422.12" stroke="#111" stroke-width="1.1700000000000002"/>
<line x1="158.00" y1="409.15" x2="160.30" y2="409.15" stroke="#111" stroke-width="1.1700000000000002"/>
<line x1="158.00" y1="396.18" x2="160.30" y2="396.18" stroke="#111" stroke-width="1.1700000000000002"/>
<line x1="158.00" y1="383.21" x2="160.30" y2="383.21" stroke="#111" stroke-width="1.1700000000000002"/>
<line x1="158.00" y1="370.24" x2="160.30" y2="370.24" stroke="#111" stroke-width="1.1700000000000002"/>
<line x1="158.00" y1="357.27" x2="160.30" y2="357.27" stroke="#111" stroke-width="1.1700000000000002"/>
<line x1="158.00" y1="331.33" x2="160.30" y2="331.33" stroke="#111" stroke-width="1.1700000000000002"/>
<line x1="158.00" y1="318.36" x2="160.30" y2="318.36" stroke="#111" stroke-width="1.1700000000000002"/>
<line x1="158.00" y1="305.39" x2="160.30" y2="305.39" stroke="#111" stroke-width="1.1700000000000002"/>
<line x1="158.00" y1="292.42" x2="160.30" y2="292.42" stroke="#111" stroke-width="1.1700000000000002"/>
<line x1="158.00" y1="279.45" x2="160.30" y2="279.45" stroke="#111" stroke-width="1.1700000000000002"/>
<line x1="158.00" y1="266.48" x2="160.30" y2="266.48" stroke="#111" stroke-width="1.1700000000000002"/>
<line x1="158.00" y1="253.51" x2="160.30" y2="253.51" stroke="#111" stroke-width="1.1700000000000002"/>
<line x1="158.00" y1="240.54" x2="160.30" y2="240.54" stroke="#111" stroke-width="1.1700000000000002"/>
<line x1="158.00" y1="227.57" x2="160.30" y2="227.57" stroke="#111" stroke-width="1.1700000000000002"/>
<line x1="159.70" y1="474.00" x2="329.80" y2="474.00" stroke="#111" stroke-width="1.3"/>
<rect x="171.30" y="407.40" width="20.60" height="66.62" fill="#2410f8"/>
<rect x="171.30" y="380.20" width="20.60" height="27.22" fill="#ff2a12"/>
<rect x="171.30" y="315.90" width="20.60" height="64.32" fill="#48e02e"/>
<rect x="171.30" y="298.60" width="20.60" height="17.32" fill="#c432fa"/>
<rect x="171.30" y="290.10" width="20.60" height="8.52" fill="#f0802e"/>
<rect x="171.30" y="288.20" width="20.60" height="1.92" fill="#000000"/>
<rect x="171.30" y="277.60" width="20.60" height="10.62" fill="#8f682e"/>
<rect x="171.30" y="276.30" width="20.60" height="1.32" fill="#14148e"/>
<rect x="171.30" y="275.50" width="20.60" height="0.82" fill="#5e185e"/>
<rect x="171.30" y="274.70" width="20.60" height="0.82" fill="#a01e1e"/>
<rect x="171.30" y="273.10" width="20.60" height="1.62" fill="#1f651f"/>
<rect x="171.30" y="270.40" width="20.60" height="2.72" fill="#e8b07e"/>
<rect x="171.30" y="269.90" width="20.60" height="0.52" fill="#3ef02e"/>
<rect x="171.30" y="267.20" width="20.60" height="2.72" fill="#a0c6f6"/>
<rect x="171.30" y="265.10" width="20.60" height="2.12" fill="#c2c2ff"/>
<rect x="171.30" y="264.40" width="20.60" height="0.72" fill="#606060"/>
<rect x="171.30" y="263.70" width="20.60" height="0.72" fill="#f2f23c"/>
<rect x="171.30" y="262.70" width="20.60" height="1.02" fill="#c4601e"/>
<rect x="171.30" y="260.80" width="20.60" height="1.92" fill="#d6d6d6"/>
<rect x="171.30" y="259.90" width="20.60" height="0.92" fill="#b8bf3e"/>
<rect x="171.30" y="214.60" width="20.60" height="45.32" fill="#2410f8"/>
<line x1="181.60" y1="474.00" x2="181.60" y2="479.00" stroke="#111" stroke-width="1.3"/>
<text x="0" y="0" font-size="11.0" text-anchor="middle" fill="#111" color="#111" transform="translate(181.60 489.20) scale(1 1.07)">NC</text>
<rect x="202.90" y="410.50" width="20.90" height="63.52" fill="#2410f8"/>
<rect x="202.90" y="355.80" width="20.90" height="54.72" fill="#ff2a12"/>
<rect x="202.90" y="302.50" width="20.90" height="53.32" fill="#48e02e"/>
<rect x="202.90" y="290.00" width="20.90" height="12.52" fill="#c432fa"/>
<rect x="202.90" y="286.50" width="20.90" height="3.52" fill="#f0802e"/>
<rect x="202.90" y="282.10" width="20.90" height="4.42" fill="#000000"/>
<rect x="202.90" y="272.90" width="20.90" height="9.22" fill="#8f682e"/>
<rect x="202.90" y="271.40" width="20.90" height="1.52" fill="#5e185e"/>
<rect x="202.90" y="270.30" width="20.90" height="1.12" fill="#a01e1e"/>
<rect x="202.90" y="269.10" width="20.90" height="1.22" fill="#1f651f"/>
<rect x="202.90" y="267.80" width="20.90" height="1.32" fill="#e8b07e"/>
<rect x="202.90" y="267.00" width="20.90" height="0.82" fill="#3ef02e"/>
<rect x="202.90" y="264.00" width="20.90" height="3.02" fill="#a0c6f6"/>
<rect x="202.90" y="262.30" width="20.90" height="1.72" fill="#c2c2ff"/>
<rect x="202.90" y="260.40" width="20.90" height="1.92" fill="#e8b07e"/>
<rect x="202.90" y="258.90" width="20.90" height="1.52" fill="#c4601e"/>
<rect x="202.90" y="257.80" width="20.90" height="1.12" fill="#d6d6d6"/>
<rect x="202.90" y="256.80" width="20.90" height="1.02" fill="#b8bf3e"/>
<rect x="202.90" y="214.60" width="20.90" height="42.22" fill="#2410f8"/>
<line x1="213.35" y1="474.00" x2="213.35" y2="479.00" stroke="#111" stroke-width="1.3"/>
<text x="0" y="0" font-size="11.0" text-anchor="middle" fill="#111" color="#111" transform="translate(213.35 489.20) scale(1 1.07)">CR</text>
<rect x="234.70" y="384.90" width="20.70" height="89.12" fill="#2410f8"/>
<rect x="234.70" y="358.90" width="20.70" height="26.02" fill="#ff2a12"/>
<rect x="234.70" y="309.80" width="20.70" height="49.12" fill="#48e02e"/>
<rect x="234.70" y="299.90" width="20.70" height="9.92" fill="#c432fa"/>
<rect x="234.70" y="284.90" width="20.70" height="15.02" fill="#f0802e"/>
<rect x="234.70" y="278.00" width="20.70" height="6.92" fill="#000000"/>
<rect x="234.70" y="269.10" width="20.70" height="8.92" fill="#8f682e"/>
<rect x="234.70" y="268.30" width="20.70" height="0.82" fill="#5e185e"/>
<rect x="234.70" y="266.10" width="20.70" height="2.22" fill="#a01e1e"/>
<rect x="234.70" y="265.00" width="20.70" height="1.12" fill="#1f651f"/>
<rect x="234.70" y="264.00" width="20.70" height="1.02" fill="#e8b07e"/>
<rect x="234.70" y="261.70" width="20.70" height="2.32" fill="#3ef02e"/>
<rect x="234.70" y="259.10" width="20.70" height="2.62" fill="#a0c6f6"/>
<rect x="234.70" y="257.80" width="20.70" height="1.32" fill="#c2c2ff"/>
<rect x="234.70" y="257.20" width="20.70" height="0.62" fill="#d6d6d6"/>
<rect x="234.70" y="255.00" width="20.70" height="2.22" fill="#f2f23c"/>
<rect x="234.70" y="253.80" width="20.70" height="1.22" fill="#c4601e"/>
<rect x="234.70" y="252.10" width="20.70" height="1.72" fill="#e8b07e"/>
<rect x="234.70" y="214.60" width="20.70" height="37.52" fill="#2410f8"/>
<line x1="245.05" y1="474.00" x2="245.05" y2="479.00" stroke="#111" stroke-width="1.3"/>
<text x="0" y="0" font-size="11.0" text-anchor="middle" fill="#111" color="#111" transform="translate(245.05 489.20) scale(1 1.07)">BM</text>
<rect x="266.20" y="389.70" width="20.80" height="84.32" fill="#2410f8"/>
<rect x="266.20" y="379.40" width="20.80" height="10.32" fill="#ff2a12"/>
<rect x="266.20" y="324.10" width="20.80" height="55.32" fill="#48e02e"/>
<rect x="266.20" y="301.90" width="20.80" height="22.22" fill="#c432fa"/>
<rect x="266.20" y="300.90" width="20.80" height="1.02" fill="#f0802e"/>
<rect x="266.20" y="297.10" width="20.80" height="3.82" fill="#000000"/>
<rect x="266.20" y="282.10" width="20.80" height="15.02" fill="#8f682e"/>
<rect x="266.20" y="280.10" width="20.80" height="2.02" fill="#5e185e"/>
<rect x="266.20" y="278.90" width="20.80" height="1.22" fill="#a01e1e"/>
<rect x="266.20" y="275.90" width="20.80" height="3.02" fill="#1f651f"/>
<rect x="266.20" y="273.80" width="20.80" height="2.12" fill="#e8b07e"/>
<rect x="266.20" y="271.90" width="20.80" height="1.92" fill="#a0c6f6"/>
<rect x="266.20" y="270.00" width="20.80" height="1.92" fill="#c2c2ff"/>
<rect x="266.20" y="268.00" width="20.80" height="2.02" fill="#606060"/>
<rect x="266.20" y="266.80" width="20.80" height="1.22" fill="#f2f23c"/>
<rect x="266.20" y="264.90" width="20.80" height="1.92" fill="#c4601e"/>
<rect x="266.20" y="262.90" width="20.80" height="2.02" fill="#b8bf3e"/>
<rect x="266.20" y="214.60" width="20.80" height="48.32" fill="#2410f8"/>
<line x1="276.60" y1="474.00" x2="276.60" y2="479.00" stroke="#111" stroke-width="1.3"/>
<text x="0" y="0" font-size="11.0" text-anchor="middle" fill="#111" color="#111" transform="translate(276.60 489.20) scale(1 1.07)">L</text>
<rect x="298.00" y="357.20" width="20.80" height="116.82" fill="#2410f8"/>
<rect x="298.00" y="342.80" width="20.80" height="14.42" fill="#ff2a12"/>
<rect x="298.00" y="299.50" width="20.80" height="43.32" fill="#48e02e"/>
<rect x="298.00" y="282.10" width="20.80" height="17.42" fill="#c432fa"/>
<rect x="298.00" y="279.90" width="20.80" height="2.22" fill="#f0802e"/>
<rect x="298.00" y="278.90" width="20.80" height="1.02" fill="#000000"/>
<rect x="298.00" y="270.00" width="20.80" height="8.92" fill="#8f682e"/>
<rect x="298.00" y="268.00" width="20.80" height="2.02" fill="#14148e"/>
<rect x="298.00" y="266.80" width="20.80" height="1.22" fill="#a01e1e"/>
<rect x="298.00" y="265.50" width="20.80" height="1.32" fill="#1f651f"/>
<rect x="298.00" y="264.20" width="20.80" height="1.32" fill="#e8b07e"/>
<rect x="298.00" y="262.90" width="20.80" height="1.32" fill="#3ef02e"/>
<rect x="298.00" y="261.00" width="20.80" height="1.92" fill="#a0c6f6"/>
<rect x="298.00" y="259.10" width="20.80" height="1.92" fill="#c2c2ff"/>
<rect x="298.00" y="257.60" width="20.80" height="1.52" fill="#b8bf3e"/>
<rect x="298.00" y="255.50" width="20.80" height="2.12" fill="#c4601e"/>
<rect x="298.00" y="254.00" width="20.80" height="1.52" fill="#e8b07e"/>
<rect x="298.00" y="214.60" width="20.80" height="39.42" fill="#2410f8"/>
<line x1="308.40" y1="474.00" x2="308.40" y2="479.00" stroke="#111" stroke-width="1.3"/>
<text x="0" y="0" font-size="11.0" text-anchor="middle" fill="#111" color="#111" transform="translate(308.40 489.20) scale(1 1.07)">ML</text>
<text x="0" y="0" font-size="11.4" text-anchor="middle" fill="#1a1a1a" color="#1a1a1a" transform="translate(135.80 339.20) rotate(-90) scale(1 1.07)">Relative Abandunce</text>
<rect x="335.80" y="299.80" width="10.40" height="3.40" fill="#2410f8"/>
<text x="0" y="0" font-size="6.6" fill="#333" color="#333" transform="translate(352.40 303.90) scale(1 1.07)">Others</text>
<rect x="335.80" y="308.10" width="10.40" height="3.40" fill="#b8bf3e"/>
<text x="0" y="0" font-size="6.6" fill="#333" color="#333" transform="translate(352.40 312.20) scale(1 1.07)">Alloprevotella</text>
<rect x="335.80" y="316.70" width="10.40" height="3.40" fill="#d6d6d6"/>
<text x="0" y="0" font-size="6.6" fill="#333" color="#333" transform="translate(352.40 320.80) scale(1 1.07)">Lachnospiraceae</text>
<rect x="335.80" y="325.20" width="10.40" height="3.40" fill="#c4601e"/>
<text x="0" y="0" font-size="6.6" fill="#333" color="#333" transform="translate(352.40 329.30) scale(1 1.07)">Alistipes</text>
<rect x="335.80" y="334.60" width="10.40" height="3.40" fill="#f2f23c"/>
<text x="0" y="0" font-size="6.6" fill="#333" color="#333" transform="translate(352.40 338.70) scale(1 1.07)">Bifidobacterium</text>
<rect x="335.80" y="342.90" width="10.40" height="3.40" fill="#606060"/>
<text x="0" y="0" font-size="6.6" fill="#333" color="#333" transform="translate(352.40 347.00) scale(1 1.07)">Clostridia</text>
<rect x="335.80" y="350.70" width="10.40" height="3.40" fill="#c2c2ff"/>
<text x="0" y="0" font-size="6.6" fill="#333" color="#333" transform="translate(352.40 354.80) scale(1 1.07)">Romboutsia</text>
<rect x="335.80" y="358.50" width="10.40" height="3.40" fill="#a0c6f6"/>
<text x="0" y="0" font-size="6.6" fill="#333" color="#333" transform="translate(352.40 362.60) scale(1 1.07)">Parasutterella</text>
<rect x="335.80" y="366.30" width="10.40" height="3.40" fill="#3ef02e"/>
<text x="0" y="0" font-size="6.6" fill="#333" color="#333" transform="translate(352.40 370.40) scale(1 1.07)">Faecalibaculum</text>
<rect x="335.80" y="374.10" width="10.40" height="3.40" fill="#e8b07e"/>
<text x="0" y="0" font-size="6.6" fill="#333" color="#333" transform="translate(352.40 378.20) scale(1 1.07)">Helicobacter</text>
<rect x="335.80" y="381.50" width="10.40" height="3.40" fill="#1f651f"/>
<text x="0" y="0" font-size="6.6" fill="#333" color="#333" transform="translate(352.40 385.60) scale(1 1.07)">Bacteroides</text>
<rect x="335.90" y="390.00" width="10.40" height="4.40" fill="#a01e1e"/>
<text x="0" y="0" font-size="8.1" font-weight="bold" style="stroke-width:0.1px" fill="#111" color="#111" transform="translate(352.40 395.10) scale(1 1.07)">Citrobacter</text>
<rect x="335.80" y="398.90" width="10.40" height="3.40" fill="#5e185e"/>
<text x="0" y="0" font-size="6.6" fill="#333" color="#333" transform="translate(352.40 403.00) scale(1 1.07)">Roseburia</text>
<rect x="335.90" y="406.30" width="10.40" height="4.40" fill="#14148e"/>
<text x="0" y="0" font-size="8.1" font-weight="bold" style="stroke-width:0.1px" fill="#111" color="#111" transform="translate(352.40 411.40) scale(1 1.07)">Akkermansia</text>
<rect x="335.80" y="414.80" width="10.40" height="3.40" fill="#8f682e"/>
<text x="0" y="0" font-size="6.6" fill="#333" color="#333" transform="translate(352.40 418.90) scale(1 1.07)">Lachnospiraceae</text>
<rect x="335.90" y="425.50" width="10.40" height="4.40" fill="#000000"/>
<text x="0" y="0" font-size="8.1" font-weight="bold" style="stroke-width:0.1px" fill="#111" color="#111" transform="translate(352.40 430.60) scale(1 1.07)">Turicibacter</text>
<rect x="335.80" y="433.90" width="10.40" height="3.40" fill="#f0802e"/>
<text x="0" y="0" font-size="6.6" fill="#333" color="#333" transform="translate(352.40 438.00) scale(1 1.07)">Ileibacterium</text>
<rect x="335.80" y="441.60" width="10.40" height="3.40" fill="#c432fa"/>
<text x="0" y="0" font-size="6.6" fill="#333" color="#333" transform="translate(352.40 445.70) scale(1 1.07)">Allobaculum</text>
<rect x="335.80" y="449.10" width="10.40" height="3.40" fill="#48e02e"/>
<text x="0" y="0" font-size="6.6" fill="#333" color="#333" transform="translate(352.40 453.20) scale(1 1.07)">Muribaculaceae</text>
<rect x="335.80" y="456.60" width="10.40" height="3.40" fill="#ff2a12"/>
<text x="0" y="0" font-size="6.6" fill="#333" color="#333" transform="translate(352.40 460.70) scale(1 1.07)">Dubosiella</text>
<rect x="335.90" y="465.70" width="10.40" height="4.40" fill="#2410f8"/>
<text x="0" y="0" font-size="8.1" font-weight="bold" style="stroke-width:0.1px" fill="#111" color="#111" transform="translate(352.40 470.80) scale(1 1.07)">Lactobacillus</text>
<text x="0" y="0" font-size="10.9" font-weight="bold" style="stroke-width:0.1px" fill="#111" color="#111" transform="translate(408.75 201.90) scale(1 1.07)">(F)</text>
<text x="0" y="0" font-size="7.95" text-anchor="middle" font-style="italic" fill="#1a1a1a" color="#1a1a1a" transform="translate(500.90 201.30) scale(1 1.07)">Citrobacter</text>
<line x1="454.30" y1="212.90" x2="454.30" y2="306.40" stroke="#111" stroke-width="1.2"/>
<line x1="449.80" y1="305.90" x2="454.30" y2="305.90" stroke="#111" stroke-width="1.2"/>
<text x="0" y="0" font-size="8.6" text-anchor="end" fill="#222" color="#222" transform="translate(448.50 308.57) scale(1 1.07)">0.000</text>
<line x1="449.80" y1="287.40" x2="454.30" y2="287.40" stroke="#111" stroke-width="1.2"/>
<text x="0" y="0" font-size="8.6" text-anchor="end" fill="#222" color="#222" transform="translate(448.50 290.07) scale(1 1.07)">0.001</text>
<line x1="449.80" y1="268.90" x2="454.30" y2="268.90" stroke="#111" stroke-width="1.2"/>
<text x="0" y="0" font-size="8.6" text-anchor="end" fill="#222" color="#222" transform="translate(448.50 271.57) scale(1 1.07)">0.002</text>
<line x1="449.80" y1="250.40" x2="454.30" y2="250.40" stroke="#111" stroke-width="1.2"/>
<text x="0" y="0" font-size="8.6" text-anchor="end" fill="#222" color="#222" transform="translate(448.50 253.07) scale(1 1.07)">0.003</text>
<line x1="449.80" y1="231.90" x2="454.30" y2="231.90" stroke="#111" stroke-width="1.2"/>
<text x="0" y="0" font-size="8.6" text-anchor="end" fill="#222" color="#222" transform="translate(448.50 234.57) scale(1 1.07)">0.004</text>
<line x1="449.80" y1="213.40" x2="454.30" y2="213.40" stroke="#111" stroke-width="1.2"/>
<text x="0" y="0" font-size="8.6" text-anchor="end" fill="#222" color="#222" transform="translate(448.50 216.07) scale(1 1.07)">0.005</text>
<line x1="449.80" y1="305.90" x2="547.10" y2="305.90" stroke="#111" stroke-width="1.2"/>
<line x1="466.15" y1="288.30" x2="466.15" y2="282.40" stroke="#3a3a3a" stroke-width="0.95"/>
<line x1="463.27" y1="282.40" x2="469.02" y2="282.40" stroke="#3a3a3a" stroke-width="1.0"/>
<rect x="460.40" y="288.30" width="11.50" height="17.60" fill="#7a7a7a" stroke="#2a2a2a" stroke-width="0.6"/>
<line x1="466.15" y1="305.90" x2="466.15" y2="310.50" stroke="#111" stroke-width="1.2"/>
<text x="0" y="0" font-size="7.8" text-anchor="middle" fill="#1a1a1a" color="#1a1a1a" transform="translate(466.15 318.80) scale(1 1.07)">NC</text>
<line x1="483.45" y1="250.30" x2="483.45" y2="239.90" stroke="#3a3a3a" stroke-width="0.95"/>
<line x1="480.57" y1="239.90" x2="486.32" y2="239.90" stroke="#3a3a3a" stroke-width="1.0"/>
<rect x="477.70" y="250.30" width="11.50" height="55.60" fill="#3e5c8c" stroke="#2a2a2a" stroke-width="0.6"/>
<line x1="483.45" y1="305.90" x2="483.45" y2="310.50" stroke="#111" stroke-width="1.2"/>
<text x="0" y="0" font-size="7.8" text-anchor="middle" fill="#1a1a1a" color="#1a1a1a" transform="translate(483.45 318.80) scale(1 1.07)">CR</text>
<line x1="500.55" y1="247.00" x2="500.55" y2="235.30" stroke="#3a3a3a" stroke-width="0.95"/>
<line x1="497.68" y1="235.30" x2="503.43" y2="235.30" stroke="#3a3a3a" stroke-width="1.0"/>
<rect x="494.80" y="247.00" width="11.50" height="58.90" fill="#7fa7b8" stroke="#2a2a2a" stroke-width="0.6"/>
<line x1="500.55" y1="305.90" x2="500.55" y2="310.50" stroke="#111" stroke-width="1.2"/>
<text x="0" y="0" font-size="7.8" text-anchor="middle" fill="#1a1a1a" color="#1a1a1a" transform="translate(500.55 318.80) scale(1 1.07)">BM</text>
<line x1="517.85" y1="256.20" x2="517.85" y2="246.50" stroke="#3a3a3a" stroke-width="0.95"/>
<line x1="514.98" y1="246.50" x2="520.73" y2="246.50" stroke="#3a3a3a" stroke-width="1.0"/>
<rect x="512.10" y="256.20" width="11.50" height="49.70" fill="#76d5cb" stroke="#2a2a2a" stroke-width="0.6"/>
<line x1="517.85" y1="305.90" x2="517.85" y2="310.50" stroke="#111" stroke-width="1.2"/>
<text x="0" y="0" font-size="7.8" text-anchor="middle" fill="#1a1a1a" color="#1a1a1a" transform="translate(517.85 318.80) scale(1 1.07)">L</text>
<line x1="535.20" y1="285.20" x2="535.20" y2="283.20" stroke="#3a3a3a" stroke-width="0.95"/>
<line x1="532.35" y1="283.20" x2="538.05" y2="283.20" stroke="#3a3a3a" stroke-width="1.0"/>
<rect x="529.50" y="285.20" width="11.40" height="20.70" fill="#d7282a" stroke="#2a2a2a" stroke-width="0.6"/>
<line x1="535.20" y1="305.90" x2="535.20" y2="310.50" stroke="#111" stroke-width="1.2"/>
<text x="0" y="0" font-size="7.8" text-anchor="middle" fill="#1a1a1a" color="#1a1a1a" transform="translate(535.20 318.80) scale(1 1.07)">ML</text>
<line x1="466.10" y1="216.00" x2="500.60" y2="216.00" stroke="#1a1a1a" stroke-width="1.3"/>
<path d="M483.35 212.14L483.35 207.06M481.15 210.87L485.55 208.33M481.15 208.33L485.55 210.87" stroke="#111" stroke-width="1.00" fill="none"/>
<line x1="466.10" y1="229.50" x2="483.00" y2="229.50" stroke="#1a1a1a" stroke-width="1.3"/>
<path d="M474.55 226.04L474.55 220.96M472.35 224.77L476.75 222.23M472.35 222.23L476.75 224.77" stroke="#111" stroke-width="1.00" fill="none"/>
<line x1="500.60" y1="229.50" x2="535.00" y2="229.50" stroke="#1a1a1a" stroke-width="1.3"/>
<path d="M517.80 226.04L517.80 220.96M515.60 224.77L520.00 222.23M515.60 222.23L520.00 224.77" stroke="#111" stroke-width="1.00" fill="none"/>
<text x="0" y="0" font-size="7.65" text-anchor="middle" fill="#222" color="#222" transform="translate(419.60 260.25) rotate(-90) scale(1 1.07)">Relative Abandunce</text>
<text x="0" y="0" font-size="7.95" text-anchor="middle" font-style="italic" fill="#1a1a1a" color="#1a1a1a" transform="translate(635.85 201.30) scale(1 1.07)">Lactobacillus</text>
<line x1="589.50" y1="212.90" x2="589.50" y2="306.00" stroke="#111" stroke-width="1.2"/>
<line x1="585.00" y1="305.50" x2="589.50" y2="305.50" stroke="#111" stroke-width="1.2"/>
<text x="0" y="0" font-size="8.6" text-anchor="end" fill="#222" color="#222" transform="translate(583.70 308.17) scale(1 1.07)">0.0</text>
<line x1="585.00" y1="274.80" x2="589.50" y2="274.80" stroke="#111" stroke-width="1.2"/>
<text x="0" y="0" font-size="8.6" text-anchor="end" fill="#222" color="#222" transform="translate(583.70 277.47) scale(1 1.07)">0.2</text>
<line x1="585.00" y1="244.10" x2="589.50" y2="244.10" stroke="#111" stroke-width="1.2"/>
<text x="0" y="0" font-size="8.6" text-anchor="end" fill="#222" color="#222" transform="translate(583.70 246.77) scale(1 1.07)">0.4</text>
<line x1="585.00" y1="213.40" x2="589.50" y2="213.40" stroke="#111" stroke-width="1.2"/>
<text x="0" y="0" font-size="8.6" text-anchor="end" fill="#222" color="#222" transform="translate(583.70 216.07) scale(1 1.07)">0.6</text>
<line x1="585.00" y1="305.50" x2="681.90" y2="305.50" stroke="#111" stroke-width="1.2"/>
<line x1="600.85" y1="264.80" x2="600.85" y2="260.20" stroke="#3a3a3a" stroke-width="0.95"/>
<line x1="597.98" y1="260.20" x2="603.73" y2="260.20" stroke="#3a3a3a" stroke-width="1.0"/>
<rect x="595.10" y="264.80" width="11.50" height="40.70" fill="#7a7a7a" stroke="#2a2a2a" stroke-width="0.6"/>
<line x1="600.85" y1="305.50" x2="600.85" y2="310.10" stroke="#111" stroke-width="1.2"/>
<text x="0" y="0" font-size="7.8" text-anchor="middle" fill="#1a1a1a" color="#1a1a1a" transform="translate(600.85 318.80) scale(1 1.07)">NC</text>
<line x1="618.15" y1="268.10" x2="618.15" y2="262.70" stroke="#3a3a3a" stroke-width="0.95"/>
<line x1="615.27" y1="262.70" x2="621.02" y2="262.70" stroke="#3a3a3a" stroke-width="1.0"/>
<rect x="612.40" y="268.10" width="11.50" height="37.40" fill="#3e5c8c" stroke="#2a2a2a" stroke-width="0.6"/>
<line x1="618.15" y1="305.50" x2="618.15" y2="310.10" stroke="#111" stroke-width="1.2"/>
<text x="0" y="0" font-size="7.8" text-anchor="middle" fill="#1a1a1a" color="#1a1a1a" transform="translate(618.15 318.80) scale(1 1.07)">CR</text>
<line x1="635.25" y1="255.60" x2="635.25" y2="250.00" stroke="#3a3a3a" stroke-width="0.95"/>
<line x1="632.38" y1="250.00" x2="638.12" y2="250.00" stroke="#3a3a3a" stroke-width="1.0"/>
<rect x="629.50" y="255.60" width="11.50" height="49.90" fill="#7fa7b8" stroke="#2a2a2a" stroke-width="0.6"/>
<line x1="635.25" y1="305.50" x2="635.25" y2="310.10" stroke="#111" stroke-width="1.2"/>
<text x="0" y="0" font-size="7.8" text-anchor="middle" fill="#1a1a1a" color="#1a1a1a" transform="translate(635.25 318.80) scale(1 1.07)">BM</text>
<line x1="652.55" y1="259.20" x2="652.55" y2="255.10" stroke="#3a3a3a" stroke-width="0.95"/>
<line x1="649.67" y1="255.10" x2="655.42" y2="255.10" stroke="#3a3a3a" stroke-width="1.0"/>
<rect x="646.80" y="259.20" width="11.50" height="46.30" fill="#76d5cb" stroke="#2a2a2a" stroke-width="0.6"/>
<line x1="652.55" y1="305.50" x2="652.55" y2="310.10" stroke="#111" stroke-width="1.2"/>
<text x="0" y="0" font-size="7.8" text-anchor="middle" fill="#1a1a1a" color="#1a1a1a" transform="translate(652.55 318.80) scale(1 1.07)">L</text>
<line x1="669.85" y1="234.70" x2="669.85" y2="226.10" stroke="#3a3a3a" stroke-width="0.95"/>
<line x1="666.98" y1="226.10" x2="672.73" y2="226.10" stroke="#3a3a3a" stroke-width="1.0"/>
<rect x="664.10" y="234.70" width="11.50" height="70.80" fill="#d7282a" stroke="#2a2a2a" stroke-width="0.6"/>
<line x1="669.85" y1="305.50" x2="669.85" y2="310.10" stroke="#111" stroke-width="1.2"/>
<text x="0" y="0" font-size="7.8" text-anchor="middle" fill="#1a1a1a" color="#1a1a1a" transform="translate(669.85 318.80) scale(1 1.07)">ML</text>
<line x1="618.20" y1="213.40" x2="670.00" y2="213.40" stroke="#1a1a1a" stroke-width="1.3"/>
<path d="M641.20 209.84L641.20 204.76M639.00 208.57L643.40 206.03M639.00 206.03L643.40 208.57M647.00 209.84L647.00 204.76M644.80 208.57L649.20 206.03M644.80 206.03L649.20 208.57" stroke="#111" stroke-width="1.00" fill="none"/>
<line x1="652.90" y1="223.40" x2="670.00" y2="223.40" stroke="#1a1a1a" stroke-width="1.3"/>
<path d="M661.45 219.84L661.45 214.76M659.25 218.57L663.65 216.03M659.25 216.03L663.65 218.57" stroke="#111" stroke-width="1.00" fill="none"/>
<text x="0" y="0" font-size="7.65" text-anchor="middle" fill="#222" color="#222" transform="translate(564.30 260.25) rotate(-90) scale(1 1.07)">Relative Abandunce</text>
<text x="0" y="0" font-size="7.95" text-anchor="middle" font-style="italic" fill="#1a1a1a" color="#1a1a1a" transform="translate(501.20 365.20) scale(1 1.07)">Turicibacter</text>
<line x1="454.50" y1="377.40" x2="454.50" y2="470.40" stroke="#111" stroke-width="1.2"/>
<line x1="450.00" y1="469.90" x2="454.50" y2="469.90" stroke="#111" stroke-width="1.2"/>
<text x="0" y="0" font-size="8.6" text-anchor="end" fill="#222" color="#222" transform="translate(448.70 472.57) scale(1 1.07)">0.000</text>
<line x1="450.00" y1="451.50" x2="454.50" y2="451.50" stroke="#111" stroke-width="1.2"/>
<text x="0" y="0" font-size="8.6" text-anchor="end" fill="#222" color="#222" transform="translate(448.70 454.17) scale(1 1.07)">0.005</text>
<line x1="450.00" y1="433.10" x2="454.50" y2="433.10" stroke="#111" stroke-width="1.2"/>
<text x="0" y="0" font-size="8.6" text-anchor="end" fill="#222" color="#222" transform="translate(448.70 435.77) scale(1 1.07)">0.010</text>
<line x1="450.00" y1="414.70" x2="454.50" y2="414.70" stroke="#111" stroke-width="1.2"/>
<text x="0" y="0" font-size="8.6" text-anchor="end" fill="#222" color="#222" transform="translate(448.70 417.37) scale(1 1.07)">0.015</text>
<line x1="450.00" y1="396.30" x2="454.50" y2="396.30" stroke="#111" stroke-width="1.2"/>
<text x="0" y="0" font-size="8.6" text-anchor="end" fill="#222" color="#222" transform="translate(448.70 398.97) scale(1 1.07)">0.020</text>
<line x1="450.00" y1="377.90" x2="454.50" y2="377.90" stroke="#111" stroke-width="1.2"/>
<text x="0" y="0" font-size="8.6" text-anchor="end" fill="#222" color="#222" transform="translate(448.70 380.57) scale(1 1.07)">0.025</text>
<line x1="450.00" y1="469.90" x2="547.10" y2="469.90" stroke="#111" stroke-width="1.2"/>
<line x1="465.95" y1="442.50" x2="465.95" y2="436.50" stroke="#3a3a3a" stroke-width="0.95"/>
<line x1="463.07" y1="436.50" x2="468.82" y2="436.50" stroke="#3a3a3a" stroke-width="1.0"/>
<rect x="460.20" y="442.50" width="11.50" height="27.40" fill="#7a7a7a" stroke="#2a2a2a" stroke-width="0.6"/>
<line x1="465.95" y1="469.90" x2="465.95" y2="474.50" stroke="#111" stroke-width="1.2"/>
<text x="0" y="0" font-size="7.8" text-anchor="middle" fill="#1a1a1a" color="#1a1a1a" transform="translate(465.95 483.30) scale(1 1.07)">NC</text>
<line x1="483.25" y1="404.20" x2="483.25" y2="387.50" stroke="#3a3a3a" stroke-width="0.95"/>
<line x1="480.43" y1="387.50" x2="486.07" y2="387.50" stroke="#3a3a3a" stroke-width="1.0"/>
<rect x="477.60" y="404.20" width="11.30" height="65.70" fill="#3e5c8c" stroke="#2a2a2a" stroke-width="0.6"/>
<line x1="483.25" y1="469.90" x2="483.25" y2="474.50" stroke="#111" stroke-width="1.2"/>
<text x="0" y="0" font-size="7.8" text-anchor="middle" fill="#1a1a1a" color="#1a1a1a" transform="translate(483.25 483.30) scale(1 1.07)">CR</text>
<line x1="500.55" y1="404.20" x2="500.55" y2="393.00" stroke="#3a3a3a" stroke-width="0.95"/>
<line x1="497.68" y1="393.00" x2="503.43" y2="393.00" stroke="#3a3a3a" stroke-width="1.0"/>
<rect x="494.80" y="404.20" width="11.50" height="65.70" fill="#7fa7b8" stroke="#2a2a2a" stroke-width="0.6"/>
<line x1="500.55" y1="469.90" x2="500.55" y2="474.50" stroke="#111" stroke-width="1.2"/>
<text x="0" y="0" font-size="7.8" text-anchor="middle" fill="#1a1a1a" color="#1a1a1a" transform="translate(500.55 483.30) scale(1 1.07)">BM</text>
<line x1="517.90" y1="416.20" x2="517.90" y2="402.10" stroke="#3a3a3a" stroke-width="0.95"/>
<line x1="515.10" y1="402.10" x2="520.70" y2="402.10" stroke="#3a3a3a" stroke-width="1.0"/>
<rect x="512.30" y="416.20" width="11.20" height="53.70" fill="#76d5cb" stroke="#2a2a2a" stroke-width="0.6"/>
<line x1="517.90" y1="469.90" x2="517.90" y2="474.50" stroke="#111" stroke-width="1.2"/>
<text x="0" y="0" font-size="7.8" text-anchor="middle" fill="#1a1a1a" color="#1a1a1a" transform="translate(517.90 483.30) scale(1 1.07)">L</text>
<line x1="535.00" y1="452.20" x2="535.00" y2="446.30" stroke="#3a3a3a" stroke-width="0.95"/>
<line x1="532.25" y1="446.30" x2="537.75" y2="446.30" stroke="#3a3a3a" stroke-width="1.0"/>
<rect x="529.50" y="452.20" width="11.00" height="17.70" fill="#d7282a" stroke="#2a2a2a" stroke-width="0.6"/>
<line x1="535.00" y1="469.90" x2="535.00" y2="474.50" stroke="#111" stroke-width="1.2"/>
<text x="0" y="0" font-size="7.8" text-anchor="middle" fill="#1a1a1a" color="#1a1a1a" transform="translate(535.00 483.30) scale(1 1.07)">ML</text>
<line x1="483.40" y1="377.20" x2="535.00" y2="377.20" stroke="#1a1a1a" stroke-width="1.3"/>
<path d="M509.20 373.64L509.20 368.56M507.00 372.37L511.40 369.83M507.00 369.83L511.40 372.37" stroke="#111" stroke-width="1.00" fill="none"/>
<line x1="500.80" y1="389.20" x2="535.00" y2="389.20" stroke="#1a1a1a" stroke-width="1.3"/>
<path d="M517.90 385.34L517.90 380.26M515.70 384.07L520.10 381.53M515.70 381.53L520.10 384.07" stroke="#111" stroke-width="1.00" fill="none"/>
<text x="0" y="0" font-size="7.65" text-anchor="middle" fill="#222" color="#222" transform="translate(420.00 424.05) rotate(-90) scale(1 1.07)">Relative Abandunce</text>
<text x="0" y="0" font-size="7.95" text-anchor="middle" font-style="italic" fill="#1a1a1a" color="#1a1a1a" transform="translate(636.05 365.20) scale(1 1.07)">Akkermansia</text>
<line x1="588.70" y1="377.60" x2="588.70" y2="470.40" stroke="#111" stroke-width="1.2"/>
<line x1="584.20" y1="469.90" x2="588.70" y2="469.90" stroke="#111" stroke-width="1.2"/>
<text x="0" y="0" font-size="8.6" text-anchor="end" fill="#222" color="#222" transform="translate(582.90 472.57) scale(1 1.07)">0.000</text>
<line x1="584.20" y1="439.30" x2="588.70" y2="439.30" stroke="#111" stroke-width="1.2"/>
<text x="0" y="0" font-size="8.6" text-anchor="end" fill="#222" color="#222" transform="translate(582.90 441.97) scale(1 1.07)">0.005</text>
<line x1="584.20" y1="408.70" x2="588.70" y2="408.70" stroke="#111" stroke-width="1.2"/>
<text x="0" y="0" font-size="8.6" text-anchor="end" fill="#222" color="#222" transform="translate(582.90 411.37) scale(1 1.07)">0.010</text>
<line x1="584.20" y1="378.10" x2="588.70" y2="378.10" stroke="#111" stroke-width="1.2"/>
<text x="0" y="0" font-size="8.6" text-anchor="end" fill="#222" color="#222" transform="translate(582.90 380.77) scale(1 1.07)">0.015</text>
<line x1="584.20" y1="469.90" x2="681.90" y2="469.90" stroke="#111" stroke-width="1.2"/>
<line x1="601.10" y1="443.20" x2="601.10" y2="431.20" stroke="#3a3a3a" stroke-width="0.95"/>
<line x1="598.35" y1="431.20" x2="603.85" y2="431.20" stroke="#3a3a3a" stroke-width="1.0"/>
<rect x="595.60" y="443.20" width="11.00" height="26.70" fill="#7a7a7a" stroke="#2a2a2a" stroke-width="0.6"/>
<line x1="601.10" y1="469.90" x2="601.10" y2="474.50" stroke="#111" stroke-width="1.2"/>
<text x="0" y="0" font-size="7.8" text-anchor="middle" fill="#1a1a1a" color="#1a1a1a" transform="translate(601.10 483.30) scale(1 1.07)">NC</text>
<line x1="618.20" y1="467.20" x2="618.20" y2="466.30" stroke="#3a3a3a" stroke-width="0.95"/>
<line x1="615.40" y1="466.30" x2="621.00" y2="466.30" stroke="#3a3a3a" stroke-width="1.0"/>
<rect x="612.60" y="467.20" width="11.20" height="2.70" fill="#3e5c8c" stroke="#2a2a2a" stroke-width="0.6"/>
<line x1="618.20" y1="469.90" x2="618.20" y2="474.50" stroke="#111" stroke-width="1.2"/>
<text x="0" y="0" font-size="7.8" text-anchor="middle" fill="#1a1a1a" color="#1a1a1a" transform="translate(618.20 483.30) scale(1 1.07)">CR</text>
<line x1="635.40" y1="469.20" x2="635.40" y2="469.00" stroke="#3a3a3a" stroke-width="0.95"/>
<line x1="632.60" y1="469.00" x2="638.20" y2="469.00" stroke="#3a3a3a" stroke-width="1.0"/>
<rect x="629.80" y="469.20" width="11.20" height="0.70" fill="#7fa7b8" stroke="#2a2a2a" stroke-width="0.6"/>
<line x1="635.40" y1="469.90" x2="635.40" y2="474.50" stroke="#111" stroke-width="1.2"/>
<text x="0" y="0" font-size="7.8" text-anchor="middle" fill="#1a1a1a" color="#1a1a1a" transform="translate(635.40 483.30) scale(1 1.07)">BM</text>
<line x1="652.60" y1="469.90" x2="652.60" y2="474.50" stroke="#111" stroke-width="1.2"/>
<text x="0" y="0" font-size="7.8" text-anchor="middle" fill="#1a1a1a" color="#1a1a1a" transform="translate(652.60 483.30) scale(1 1.07)">L</text>
<line x1="670.05" y1="430.00" x2="670.05" y2="392.30" stroke="#3a3a3a" stroke-width="0.95"/>
<line x1="667.22" y1="392.30" x2="672.88" y2="392.30" stroke="#3a3a3a" stroke-width="1.0"/>
<rect x="664.40" y="430.00" width="11.30" height="39.90" fill="#d7282a" stroke="#2a2a2a" stroke-width="0.6"/>
<line x1="670.05" y1="469.90" x2="670.05" y2="474.50" stroke="#111" stroke-width="1.2"/>
<text x="0" y="0" font-size="7.8" text-anchor="middle" fill="#1a1a1a" color="#1a1a1a" transform="translate(670.05 483.30) scale(1 1.07)">ML</text>
<line x1="600.90" y1="384.60" x2="652.70" y2="384.60" stroke="#1a1a1a" stroke-width="1.3"/>
<path d="M623.90 381.04L623.90 375.96M621.70 379.77L626.10 377.23M621.70 377.23L626.10 379.77M629.70 381.04L629.70 375.96M627.50 379.77L631.90 377.23M627.50 377.23L631.90 379.77" stroke="#111" stroke-width="1.00" fill="none"/>
<line x1="600.90" y1="406.30" x2="635.20" y2="406.30" stroke="#1a1a1a" stroke-width="1.3"/>
<path d="M615.15 402.54L615.15 397.46M612.95 401.27L617.35 398.73M612.95 398.73L617.35 401.27M620.95 402.54L620.95 397.46M618.75 401.27L623.15 398.73M618.75 398.73L623.15 401.27" stroke="#111" stroke-width="1.00" fill="none"/>
<text x="0" y="0" font-size="7.65" text-anchor="middle" fill="#222" color="#222" transform="translate(554.80 424.05) rotate(-90) scale(1 1.07)">Relative Abandunce</text>
<text x="0" y="0" font-size="10.9" font-weight="bold" style="stroke-width:0.1px" fill="#111" color="#111" transform="translate(1.70 513.30) scale(1 1.07)">(G)</text>
<line x1="45.50" y1="520.70" x2="45.50" y2="614.00" stroke="#111" stroke-width="1.2"/>
<line x1="40.70" y1="613.50" x2="45.50" y2="613.50" stroke="#111" stroke-width="1.2"/>
<text x="0" y="0" font-size="8.5" text-anchor="end" fill="#222" color="#222" transform="translate(39.10 616.13) scale(1 1.07)">0</text>
<line x1="40.70" y1="582.73" x2="45.50" y2="582.73" stroke="#111" stroke-width="1.2"/>
<text x="0" y="0" font-size="8.5" text-anchor="end" fill="#222" color="#222" transform="translate(39.10 585.37) scale(1 1.07)">1000</text>
<line x1="40.70" y1="551.97" x2="45.50" y2="551.97" stroke="#111" stroke-width="1.2"/>
<text x="0" y="0" font-size="8.5" text-anchor="end" fill="#222" color="#222" transform="translate(39.10 554.60) scale(1 1.07)">2000</text>
<line x1="40.70" y1="521.20" x2="45.50" y2="521.20" stroke="#111" stroke-width="1.2"/>
<text x="0" y="0" font-size="8.5" text-anchor="end" fill="#222" color="#222" transform="translate(39.10 523.84) scale(1 1.07)">3000</text>
<line x1="40.70" y1="613.50" x2="137.00" y2="613.50" stroke="#111" stroke-width="1.2"/>
<line x1="56.80" y1="583.80" x2="56.80" y2="580.10" stroke="#3a3a3a" stroke-width="0.95"/>
<line x1="53.90" y1="580.10" x2="59.70" y2="580.10" stroke="#3a3a3a" stroke-width="1.0"/>
<rect x="51.00" y="583.80" width="11.60" height="29.70" fill="#7a7a7a" stroke="#2a2a2a" stroke-width="0.6"/>
<line x1="56.80" y1="613.50" x2="56.80" y2="618.10" stroke="#111" stroke-width="1.2"/>
<text x="0" y="0" font-size="8.5" text-anchor="middle" fill="#1a1a1a" color="#1a1a1a" transform="translate(56.80 627.00) scale(1 1.07)">NC</text>
<line x1="74.20" y1="586.70" x2="74.20" y2="584.50" stroke="#3a3a3a" stroke-width="0.95"/>
<line x1="71.40" y1="584.50" x2="77.00" y2="584.50" stroke="#3a3a3a" stroke-width="1.0"/>
<rect x="68.60" y="586.70" width="11.20" height="26.80" fill="#3e5c8c" stroke="#2a2a2a" stroke-width="0.6"/>
<line x1="74.20" y1="613.50" x2="74.20" y2="618.10" stroke="#111" stroke-width="1.2"/>
<text x="0" y="0" font-size="8.5" text-anchor="middle" fill="#1a1a1a" color="#1a1a1a" transform="translate(74.20 627.00) scale(1 1.07)">CR</text>
<line x1="91.55" y1="584.50" x2="91.55" y2="583.40" stroke="#3a3a3a" stroke-width="0.95"/>
<line x1="88.63" y1="583.40" x2="94.48" y2="583.40" stroke="#3a3a3a" stroke-width="1.0"/>
<rect x="85.70" y="584.50" width="11.70" height="29.00" fill="#7fa7b8" stroke="#2a2a2a" stroke-width="0.6"/>
<line x1="91.55" y1="613.50" x2="91.55" y2="618.10" stroke="#111" stroke-width="1.2"/>
<text x="0" y="0" font-size="8.5" text-anchor="middle" fill="#1a1a1a" color="#1a1a1a" transform="translate(91.55 627.00) scale(1 1.07)">BM</text>
<line x1="109.00" y1="570.70" x2="109.00" y2="567.40" stroke="#3a3a3a" stroke-width="0.95"/>
<line x1="106.15" y1="567.40" x2="111.85" y2="567.40" stroke="#3a3a3a" stroke-width="1.0"/>
<rect x="103.30" y="570.70" width="11.40" height="42.80" fill="#76d5cb" stroke="#2a2a2a" stroke-width="0.6"/>
<line x1="109.00" y1="613.50" x2="109.00" y2="618.10" stroke="#111" stroke-width="1.2"/>
<text x="0" y="0" font-size="8.5" text-anchor="middle" fill="#1a1a1a" color="#1a1a1a" transform="translate(109.00 627.00) scale(1 1.07)">L</text>
<line x1="126.15" y1="546.00" x2="126.15" y2="538.80" stroke="#3a3a3a" stroke-width="0.95"/>
<line x1="123.28" y1="538.80" x2="129.03" y2="538.80" stroke="#3a3a3a" stroke-width="1.0"/>
<rect x="120.40" y="546.00" width="11.50" height="67.50" fill="#d7282a" stroke="#2a2a2a" stroke-width="0.6"/>
<line x1="126.15" y1="613.50" x2="126.15" y2="618.10" stroke="#111" stroke-width="1.2"/>
<text x="0" y="0" font-size="8.5" text-anchor="middle" fill="#1a1a1a" color="#1a1a1a" transform="translate(126.15 627.00) scale(1 1.07)">ML</text>
<line x1="57.10" y1="513.40" x2="125.90" y2="513.40" stroke="#1a1a1a" stroke-width="1.3"/>
<path d="M88.45 509.52L88.45 504.88M86.44 508.36L90.46 506.04M86.44 506.04L90.46 508.36M94.55 509.52L94.55 504.88M92.54 508.36L96.56 506.04M92.54 506.04L96.56 508.36" stroke="#111" stroke-width="0.92" fill="none"/>
<line x1="74.30" y1="524.30" x2="125.90" y2="524.30" stroke="#1a1a1a" stroke-width="1.3"/>
<path d="M97.05 520.42L97.05 515.78M95.04 519.26L99.06 516.94M95.04 516.94L99.06 519.26M103.15 520.42L103.15 515.78M101.14 519.26L105.16 516.94M101.14 516.94L105.16 519.26" stroke="#111" stroke-width="0.92" fill="none"/>
<line x1="91.60" y1="535.40" x2="125.90" y2="535.40" stroke="#1a1a1a" stroke-width="1.3"/>
<path d="M105.70 531.52L105.70 526.88M103.69 530.36L107.71 528.04M103.69 528.04L107.71 530.36M111.80 531.52L111.80 526.88M109.79 530.36L113.81 528.04M109.79 528.04L113.81 530.36" stroke="#111" stroke-width="0.92" fill="none"/>
<text x="0" y="0" font-size="7.0" text-anchor="middle" fill="#444" color="#444" transform="translate(6.40 570.50) rotate(-90) scale(1 1.07)">Acetic acid</text>
<text x="0" y="0" font-size="7.05" text-anchor="middle" fill="#222" color="#222" transform="translate(14.55 571.00) rotate(-90) scale(1 1.07)">Concentration (μg / g feces)</text>
<line x1="185.50" y1="520.50" x2="185.50" y2="613.30" stroke="#111" stroke-width="1.2"/>
<line x1="180.70" y1="612.80" x2="185.50" y2="612.80" stroke="#111" stroke-width="1.2"/>
<text x="0" y="0" font-size="8.5" text-anchor="end" fill="#222" color="#222" transform="translate(179.10 615.43) scale(1 1.07)">0</text>
<line x1="180.70" y1="589.85" x2="185.50" y2="589.85" stroke="#111" stroke-width="1.2"/>
<text x="0" y="0" font-size="8.5" text-anchor="end" fill="#222" color="#222" transform="translate(179.10 592.48) scale(1 1.07)">200</text>
<line x1="180.70" y1="566.90" x2="185.50" y2="566.90" stroke="#111" stroke-width="1.2"/>
<text x="0" y="0" font-size="8.5" text-anchor="end" fill="#222" color="#222" transform="translate(179.10 569.53) scale(1 1.07)">400</text>
<line x1="180.70" y1="543.95" x2="185.50" y2="543.95" stroke="#111" stroke-width="1.2"/>
<text x="0" y="0" font-size="8.5" text-anchor="end" fill="#222" color="#222" transform="translate(179.10 546.59) scale(1 1.07)">600</text>
<line x1="180.70" y1="521.00" x2="185.50" y2="521.00" stroke="#111" stroke-width="1.2"/>
<text x="0" y="0" font-size="8.5" text-anchor="end" fill="#222" color="#222" transform="translate(179.10 523.63) scale(1 1.07)">800</text>
<line x1="180.70" y1="612.80" x2="277.00" y2="612.80" stroke="#111" stroke-width="1.2"/>
<line x1="197.05" y1="592.00" x2="197.05" y2="589.30" stroke="#3a3a3a" stroke-width="0.95"/>
<line x1="194.12" y1="589.30" x2="199.98" y2="589.30" stroke="#3a3a3a" stroke-width="1.0"/>
<rect x="191.20" y="592.00" width="11.70" height="20.80" fill="#7a7a7a" stroke="#2a2a2a" stroke-width="0.6"/>
<line x1="197.05" y1="612.80" x2="197.05" y2="617.40" stroke="#111" stroke-width="1.2"/>
<text x="0" y="0" font-size="8.5" text-anchor="middle" fill="#1a1a1a" color="#1a1a1a" transform="translate(197.05 627.00) scale(1 1.07)">NC</text>
<line x1="214.20" y1="587.50" x2="214.20" y2="586.40" stroke="#3a3a3a" stroke-width="0.95"/>
<line x1="211.40" y1="586.40" x2="217.00" y2="586.40" stroke="#3a3a3a" stroke-width="1.0"/>
<rect x="208.60" y="587.50" width="11.20" height="25.30" fill="#3e5c8c" stroke="#2a2a2a" stroke-width="0.6"/>
<line x1="214.20" y1="612.80" x2="214.20" y2="617.40" stroke="#111" stroke-width="1.2"/>
<text x="0" y="0" font-size="8.5" text-anchor="middle" fill="#1a1a1a" color="#1a1a1a" transform="translate(214.20 627.00) scale(1 1.07)">CR</text>
<line x1="231.80" y1="586.20" x2="231.80" y2="583.20" stroke="#3a3a3a" stroke-width="0.95"/>
<line x1="228.90" y1="583.20" x2="234.70" y2="583.20" stroke="#3a3a3a" stroke-width="1.0"/>
<rect x="226.00" y="586.20" width="11.60" height="26.60" fill="#7fa7b8" stroke="#2a2a2a" stroke-width="0.6"/>
<line x1="231.80" y1="612.80" x2="231.80" y2="617.40" stroke="#111" stroke-width="1.2"/>
<text x="0" y="0" font-size="8.5" text-anchor="middle" fill="#1a1a1a" color="#1a1a1a" transform="translate(231.80 627.00) scale(1 1.07)">BM</text>
<line x1="248.95" y1="570.90" x2="248.95" y2="568.30" stroke="#3a3a3a" stroke-width="0.95"/>
<line x1="246.12" y1="568.30" x2="251.77" y2="568.30" stroke="#3a3a3a" stroke-width="1.0"/>
<rect x="243.30" y="570.90" width="11.30" height="41.90" fill="#76d5cb" stroke="#2a2a2a" stroke-width="0.6"/>
<line x1="248.95" y1="612.80" x2="248.95" y2="617.40" stroke="#111" stroke-width="1.2"/>
<text x="0" y="0" font-size="8.5" text-anchor="middle" fill="#1a1a1a" color="#1a1a1a" transform="translate(248.95 627.00) scale(1 1.07)">L</text>
<line x1="265.80" y1="548.60" x2="265.80" y2="538.40" stroke="#3a3a3a" stroke-width="0.95"/>
<line x1="262.95" y1="538.40" x2="268.65" y2="538.40" stroke="#3a3a3a" stroke-width="1.0"/>
<rect x="260.10" y="548.60" width="11.40" height="64.20" fill="#d7282a" stroke="#2a2a2a" stroke-width="0.6"/>
<line x1="265.80" y1="612.80" x2="265.80" y2="617.40" stroke="#111" stroke-width="1.2"/>
<text x="0" y="0" font-size="8.5" text-anchor="middle" fill="#1a1a1a" color="#1a1a1a" transform="translate(265.80 627.00) scale(1 1.07)">ML</text>
<line x1="197.00" y1="523.90" x2="266.10" y2="523.90" stroke="#1a1a1a" stroke-width="1.3"/>
<path d="M231.55 520.12L231.55 515.48M229.54 518.96L233.56 516.64M229.54 516.64L233.56 518.96" stroke="#111" stroke-width="0.92" fill="none"/>
<line x1="197.00" y1="536.80" x2="248.70" y2="536.80" stroke="#1a1a1a" stroke-width="1.3"/>
<path d="M216.75 533.02L216.75 528.38M214.74 531.86L218.76 529.54M214.74 529.54L218.76 531.86M222.85 533.02L222.85 528.38M220.84 531.86L224.86 529.54M220.84 529.54L224.86 531.86M228.95 533.02L228.95 528.38M226.94 531.86L230.96 529.54M226.94 529.54L230.96 531.86" stroke="#111" stroke-width="0.92" fill="none"/>
<line x1="214.50" y1="549.60" x2="248.70" y2="549.60" stroke="#1a1a1a" stroke-width="1.3"/>
<path d="M228.55 545.82L228.55 541.18M226.54 544.66L230.56 542.34M226.54 542.34L230.56 544.66M234.65 545.82L234.65 541.18M232.64 544.66L236.66 542.34M232.64 542.34L236.66 544.66" stroke="#111" stroke-width="0.92" fill="none"/>
<line x1="232.00" y1="562.50" x2="248.70" y2="562.50" stroke="#1a1a1a" stroke-width="1.3"/>
<path d="M240.35 558.72L240.35 554.08M238.34 557.56L242.36 555.24M238.34 555.24L242.36 557.56" stroke="#111" stroke-width="0.92" fill="none"/>
<text x="0" y="0" font-size="7.0" text-anchor="middle" fill="#444" color="#444" transform="translate(145.90 568.20) rotate(-90) scale(1 1.07)">Propionic acid</text>
<text x="0" y="0" font-size="7.05" text-anchor="middle" fill="#222" color="#222" transform="translate(154.70 568.40) rotate(-90) scale(1 1.07)">Concentration (μg / g feces)</text>
<line x1="325.80" y1="520.50" x2="325.80" y2="613.30" stroke="#111" stroke-width="1.2"/>
<line x1="321.00" y1="612.80" x2="325.80" y2="612.80" stroke="#111" stroke-width="1.2"/>
<text x="0" y="0" font-size="8.5" text-anchor="end" fill="#222" color="#222" transform="translate(319.40 615.43) scale(1 1.07)">0</text>
<line x1="321.00" y1="589.85" x2="325.80" y2="589.85" stroke="#111" stroke-width="1.2"/>
<text x="0" y="0" font-size="8.5" text-anchor="end" fill="#222" color="#222" transform="translate(319.40 592.48) scale(1 1.07)">50</text>
<line x1="321.00" y1="566.90" x2="325.80" y2="566.90" stroke="#111" stroke-width="1.2"/>
<text x="0" y="0" font-size="8.5" text-anchor="end" fill="#222" color="#222" transform="translate(319.40 569.53) scale(1 1.07)">100</text>
<line x1="321.00" y1="543.95" x2="325.80" y2="543.95" stroke="#111" stroke-width="1.2"/>
<text x="0" y="0" font-size="8.5" text-anchor="end" fill="#222" color="#222" transform="translate(319.40 546.59) scale(1 1.07)">150</text>
<line x1="321.00" y1="521.00" x2="325.80" y2="521.00" stroke="#111" stroke-width="1.2"/>
<text x="0" y="0" font-size="8.5" text-anchor="end" fill="#222" color="#222" transform="translate(319.40 523.63) scale(1 1.07)">200</text>
<line x1="321.00" y1="612.80" x2="418.60" y2="612.80" stroke="#111" stroke-width="1.2"/>
<line x1="337.35" y1="590.50" x2="337.35" y2="586.20" stroke="#3a3a3a" stroke-width="0.95"/>
<line x1="334.53" y1="586.20" x2="340.18" y2="586.20" stroke="#3a3a3a" stroke-width="1.0"/>
<rect x="331.70" y="590.50" width="11.30" height="22.30" fill="#7a7a7a" stroke="#2a2a2a" stroke-width="0.6"/>
<line x1="337.35" y1="612.80" x2="337.35" y2="617.40" stroke="#111" stroke-width="1.2"/>
<text x="0" y="0" font-size="8.5" text-anchor="middle" fill="#1a1a1a" color="#1a1a1a" transform="translate(337.35 627.00) scale(1 1.07)">NC</text>
<line x1="354.50" y1="591.40" x2="354.50" y2="590.50" stroke="#3a3a3a" stroke-width="0.95"/>
<line x1="351.60" y1="590.50" x2="357.40" y2="590.50" stroke="#3a3a3a" stroke-width="1.0"/>
<rect x="348.70" y="591.40" width="11.60" height="21.40" fill="#3e5c8c" stroke="#2a2a2a" stroke-width="0.6"/>
<line x1="354.50" y1="612.80" x2="354.50" y2="617.40" stroke="#111" stroke-width="1.2"/>
<text x="0" y="0" font-size="8.5" text-anchor="middle" fill="#1a1a1a" color="#1a1a1a" transform="translate(354.50 627.00) scale(1 1.07)">CR</text>
<line x1="371.85" y1="595.20" x2="371.85" y2="593.20" stroke="#3a3a3a" stroke-width="0.95"/>
<line x1="368.93" y1="593.20" x2="374.78" y2="593.20" stroke="#3a3a3a" stroke-width="1.0"/>
<rect x="366.00" y="595.20" width="11.70" height="17.60" fill="#7fa7b8" stroke="#2a2a2a" stroke-width="0.6"/>
<line x1="371.85" y1="612.80" x2="371.85" y2="617.40" stroke="#111" stroke-width="1.2"/>
<text x="0" y="0" font-size="8.5" text-anchor="middle" fill="#1a1a1a" color="#1a1a1a" transform="translate(371.85 627.00) scale(1 1.07)">BM</text>
<line x1="389.05" y1="576.20" x2="389.05" y2="569.10" stroke="#3a3a3a" stroke-width="0.95"/>
<line x1="386.22" y1="569.10" x2="391.87" y2="569.10" stroke="#3a3a3a" stroke-width="1.0"/>
<rect x="383.40" y="576.20" width="11.30" height="36.60" fill="#76d5cb" stroke="#2a2a2a" stroke-width="0.6"/>
<line x1="389.05" y1="612.80" x2="389.05" y2="617.40" stroke="#111" stroke-width="1.2"/>
<text x="0" y="0" font-size="8.5" text-anchor="middle" fill="#1a1a1a" color="#1a1a1a" transform="translate(389.05 627.00) scale(1 1.07)">L</text>
<line x1="406.40" y1="551.50" x2="406.40" y2="543.30" stroke="#3a3a3a" stroke-width="0.95"/>
<line x1="403.60" y1="543.30" x2="409.20" y2="543.30" stroke="#3a3a3a" stroke-width="1.0"/>
<rect x="400.80" y="551.50" width="11.20" height="61.30" fill="#d7282a" stroke="#2a2a2a" stroke-width="0.6"/>
<line x1="406.40" y1="612.80" x2="406.40" y2="617.40" stroke="#111" stroke-width="1.2"/>
<text x="0" y="0" font-size="8.5" text-anchor="middle" fill="#1a1a1a" color="#1a1a1a" transform="translate(406.40 627.00) scale(1 1.07)">ML</text>
<line x1="337.20" y1="516.70" x2="406.50" y2="516.70" stroke="#1a1a1a" stroke-width="1.3"/>
<path d="M371.85 513.02L371.85 508.38M369.84 511.86L373.86 509.54M369.84 509.54L373.86 511.86" stroke="#111" stroke-width="0.92" fill="none"/>
<line x1="354.50" y1="528.60" x2="406.50" y2="528.60" stroke="#1a1a1a" stroke-width="1.3"/>
<path d="M380.50 525.12L380.50 520.48M378.49 523.96L382.51 521.64M378.49 521.64L382.51 523.96" stroke="#111" stroke-width="0.92" fill="none"/>
<line x1="372.00" y1="540.60" x2="406.50" y2="540.60" stroke="#1a1a1a" stroke-width="1.3"/>
<path d="M389.25 537.02L389.25 532.38M387.24 535.86L391.26 533.54M387.24 533.54L391.26 535.86" stroke="#111" stroke-width="0.92" fill="none"/>
<text x="0" y="0" font-size="7.0" text-anchor="middle" fill="#444" color="#444" transform="translate(286.70 568.60) rotate(-90) scale(1 1.07)">Butyric acid</text>
<text x="0" y="0" font-size="7.05" text-anchor="middle" fill="#222" color="#222" transform="translate(295.30 568.80) rotate(-90) scale(1 1.07)">Concentration (μg / g feces)</text>
<line x1="461.50" y1="520.70" x2="461.50" y2="613.60" stroke="#111" stroke-width="1.2"/>
<line x1="456.70" y1="613.10" x2="461.50" y2="613.10" stroke="#111" stroke-width="1.2"/>
<text x="0" y="0" font-size="8.5" text-anchor="end" fill="#222" color="#222" transform="translate(455.10 615.74) scale(1 1.07)">0</text>
<line x1="456.70" y1="582.47" x2="461.50" y2="582.47" stroke="#111" stroke-width="1.2"/>
<text x="0" y="0" font-size="8.5" text-anchor="end" fill="#222" color="#222" transform="translate(455.10 585.10) scale(1 1.07)">50</text>
<line x1="456.70" y1="551.83" x2="461.50" y2="551.83" stroke="#111" stroke-width="1.2"/>
<text x="0" y="0" font-size="8.5" text-anchor="end" fill="#222" color="#222" transform="translate(455.10 554.47) scale(1 1.07)">100</text>
<line x1="456.70" y1="521.20" x2="461.50" y2="521.20" stroke="#111" stroke-width="1.2"/>
<text x="0" y="0" font-size="8.5" text-anchor="end" fill="#222" color="#222" transform="translate(455.10 523.84) scale(1 1.07)">150</text>
<line x1="456.70" y1="613.10" x2="553.80" y2="613.10" stroke="#111" stroke-width="1.2"/>
<line x1="472.90" y1="591.10" x2="472.90" y2="587.10" stroke="#3a3a3a" stroke-width="0.95"/>
<line x1="470.05" y1="587.10" x2="475.75" y2="587.10" stroke="#3a3a3a" stroke-width="1.0"/>
<rect x="467.20" y="591.10" width="11.40" height="22.00" fill="#7a7a7a" stroke="#2a2a2a" stroke-width="0.6"/>
<line x1="472.90" y1="613.10" x2="472.90" y2="617.70" stroke="#111" stroke-width="1.2"/>
<text x="0" y="0" font-size="8.5" text-anchor="middle" fill="#1a1a1a" color="#1a1a1a" transform="translate(472.90 627.00) scale(1 1.07)">NC</text>
<line x1="489.80" y1="590.40" x2="489.80" y2="586.30" stroke="#3a3a3a" stroke-width="0.95"/>
<line x1="486.95" y1="586.30" x2="492.65" y2="586.30" stroke="#3a3a3a" stroke-width="1.0"/>
<rect x="484.10" y="590.40" width="11.40" height="22.70" fill="#3e5c8c" stroke="#2a2a2a" stroke-width="0.6"/>
<line x1="489.80" y1="613.10" x2="489.80" y2="617.70" stroke="#111" stroke-width="1.2"/>
<text x="0" y="0" font-size="8.5" text-anchor="middle" fill="#1a1a1a" color="#1a1a1a" transform="translate(489.80 627.00) scale(1 1.07)">CR</text>
<line x1="507.00" y1="590.20" x2="507.00" y2="588.90" stroke="#3a3a3a" stroke-width="0.95"/>
<line x1="504.15" y1="588.90" x2="509.85" y2="588.90" stroke="#3a3a3a" stroke-width="1.0"/>
<rect x="501.30" y="590.20" width="11.40" height="22.90" fill="#7fa7b8" stroke="#2a2a2a" stroke-width="0.6"/>
<line x1="507.00" y1="613.10" x2="507.00" y2="617.70" stroke="#111" stroke-width="1.2"/>
<text x="0" y="0" font-size="8.5" text-anchor="middle" fill="#1a1a1a" color="#1a1a1a" transform="translate(507.00 627.00) scale(1 1.07)">BM</text>
<line x1="524.20" y1="573.10" x2="524.20" y2="567.40" stroke="#3a3a3a" stroke-width="0.95"/>
<line x1="521.40" y1="567.40" x2="527.00" y2="567.40" stroke="#3a3a3a" stroke-width="1.0"/>
<rect x="518.60" y="573.10" width="11.20" height="40.00" fill="#76d5cb" stroke="#2a2a2a" stroke-width="0.6"/>
<line x1="524.20" y1="613.10" x2="524.20" y2="617.70" stroke="#111" stroke-width="1.2"/>
<text x="0" y="0" font-size="8.5" text-anchor="middle" fill="#1a1a1a" color="#1a1a1a" transform="translate(524.20 627.00) scale(1 1.07)">L</text>
<line x1="541.70" y1="542.30" x2="541.70" y2="536.20" stroke="#3a3a3a" stroke-width="0.95"/>
<line x1="538.95" y1="536.20" x2="544.45" y2="536.20" stroke="#3a3a3a" stroke-width="1.0"/>
<rect x="536.20" y="542.30" width="11.00" height="70.80" fill="#d7282a" stroke="#2a2a2a" stroke-width="0.6"/>
<line x1="541.70" y1="613.10" x2="541.70" y2="617.70" stroke="#111" stroke-width="1.2"/>
<text x="0" y="0" font-size="8.5" text-anchor="middle" fill="#1a1a1a" color="#1a1a1a" transform="translate(541.70 627.00) scale(1 1.07)">ML</text>
<line x1="490.00" y1="507.90" x2="541.80" y2="507.90" stroke="#1a1a1a" stroke-width="1.3"/>
<path d="M512.85 504.22L512.85 499.58M510.84 503.06L514.86 500.74M510.84 500.74L514.86 503.06M518.95 504.22L518.95 499.58M516.94 503.06L520.96 500.74M516.94 500.74L520.96 503.06" stroke="#111" stroke-width="0.92" fill="none"/>
<line x1="507.10" y1="520.50" x2="541.80" y2="520.50" stroke="#1a1a1a" stroke-width="1.3"/>
<path d="M521.40 516.92L521.40 512.28M519.39 515.76L523.41 513.44M519.39 513.44L523.41 515.76M527.50 516.92L527.50 512.28M525.49 515.76L529.51 513.44M525.49 513.44L529.51 515.76" stroke="#111" stroke-width="0.92" fill="none"/>
<line x1="524.50" y1="532.60" x2="541.80" y2="532.60" stroke="#1a1a1a" stroke-width="1.3"/>
<path d="M533.15 529.02L533.15 524.38M531.14 527.86L535.16 525.54M531.14 525.54L535.16 527.86" stroke="#111" stroke-width="0.92" fill="none"/>
<text x="0" y="0" font-size="7.0" text-anchor="middle" fill="#444" color="#444" transform="translate(425.70 567.80) rotate(-90) scale(1 1.07)">Isobutyric acid</text>
<text x="0" y="0" font-size="7.05" text-anchor="middle" fill="#222" color="#222" transform="translate(434.50 568.40) rotate(-90) scale(1 1.07)">Concentration (μg / g feces)</text>
<line x1="591.60" y1="520.70" x2="591.60" y2="613.60" stroke="#111" stroke-width="1.2"/>
<line x1="586.80" y1="613.10" x2="591.60" y2="613.10" stroke="#111" stroke-width="1.2"/>
<text x="0" y="0" font-size="8.5" text-anchor="end" fill="#222" color="#222" transform="translate(585.20 615.74) scale(1 1.07)">0</text>
<line x1="586.80" y1="582.47" x2="591.60" y2="582.47" stroke="#111" stroke-width="1.2"/>
<text x="0" y="0" font-size="8.5" text-anchor="end" fill="#222" color="#222" transform="translate(585.20 585.10) scale(1 1.07)">20</text>
<line x1="586.80" y1="551.83" x2="591.60" y2="551.83" stroke="#111" stroke-width="1.2"/>
<text x="0" y="0" font-size="8.5" text-anchor="end" fill="#222" color="#222" transform="translate(585.20 554.47) scale(1 1.07)">40</text>
<line x1="586.80" y1="521.20" x2="591.60" y2="521.20" stroke="#111" stroke-width="1.2"/>
<text x="0" y="0" font-size="8.5" text-anchor="end" fill="#222" color="#222" transform="translate(585.20 523.84) scale(1 1.07)">60</text>
<line x1="586.80" y1="613.10" x2="685.00" y2="613.10" stroke="#111" stroke-width="1.2"/>
<line x1="603.00" y1="597.30" x2="603.00" y2="595.50" stroke="#3a3a3a" stroke-width="0.95"/>
<line x1="600.15" y1="595.50" x2="605.85" y2="595.50" stroke="#3a3a3a" stroke-width="1.0"/>
<rect x="597.30" y="597.30" width="11.40" height="15.80" fill="#7a7a7a" stroke="#2a2a2a" stroke-width="0.6"/>
<line x1="603.00" y1="613.10" x2="603.00" y2="617.70" stroke="#111" stroke-width="1.2"/>
<text x="0" y="0" font-size="8.5" text-anchor="middle" fill="#1a1a1a" color="#1a1a1a" transform="translate(603.00 627.00) scale(1 1.07)">NC</text>
<line x1="620.30" y1="594.40" x2="620.30" y2="591.50" stroke="#3a3a3a" stroke-width="0.95"/>
<line x1="617.50" y1="591.50" x2="623.10" y2="591.50" stroke="#3a3a3a" stroke-width="1.0"/>
<rect x="614.70" y="594.40" width="11.20" height="18.70" fill="#3e5c8c" stroke="#2a2a2a" stroke-width="0.6"/>
<line x1="620.30" y1="613.10" x2="620.30" y2="617.70" stroke="#111" stroke-width="1.2"/>
<text x="0" y="0" font-size="8.5" text-anchor="middle" fill="#1a1a1a" color="#1a1a1a" transform="translate(620.30 627.00) scale(1 1.07)">CR</text>
<line x1="637.50" y1="594.40" x2="637.50" y2="590.40" stroke="#3a3a3a" stroke-width="0.95"/>
<line x1="634.65" y1="590.40" x2="640.35" y2="590.40" stroke="#3a3a3a" stroke-width="1.0"/>
<rect x="631.80" y="594.40" width="11.40" height="18.70" fill="#7fa7b8" stroke="#2a2a2a" stroke-width="0.6"/>
<line x1="637.50" y1="613.10" x2="637.50" y2="617.70" stroke="#111" stroke-width="1.2"/>
<text x="0" y="0" font-size="8.5" text-anchor="middle" fill="#1a1a1a" color="#1a1a1a" transform="translate(637.50 627.00) scale(1 1.07)">BM</text>
<line x1="654.70" y1="566.50" x2="654.70" y2="555.00" stroke="#3a3a3a" stroke-width="0.95"/>
<line x1="651.85" y1="555.00" x2="657.55" y2="555.00" stroke="#3a3a3a" stroke-width="1.0"/>
<rect x="649.00" y="566.50" width="11.40" height="46.60" fill="#76d5cb" stroke="#2a2a2a" stroke-width="0.6"/>
<line x1="654.70" y1="613.10" x2="654.70" y2="617.70" stroke="#111" stroke-width="1.2"/>
<text x="0" y="0" font-size="8.5" text-anchor="middle" fill="#1a1a1a" color="#1a1a1a" transform="translate(654.70 627.00) scale(1 1.07)">L</text>
<line x1="672.25" y1="540.10" x2="672.25" y2="531.10" stroke="#3a3a3a" stroke-width="0.95"/>
<line x1="669.38" y1="531.10" x2="675.12" y2="531.10" stroke="#3a3a3a" stroke-width="1.0"/>
<rect x="666.50" y="540.10" width="11.50" height="73.00" fill="#d7282a" stroke="#2a2a2a" stroke-width="0.6"/>
<line x1="672.25" y1="613.10" x2="672.25" y2="617.70" stroke="#111" stroke-width="1.2"/>
<text x="0" y="0" font-size="8.5" text-anchor="middle" fill="#1a1a1a" color="#1a1a1a" transform="translate(672.25 627.00) scale(1 1.07)">ML</text>
<line x1="603.30" y1="507.00" x2="671.80" y2="507.00" stroke="#1a1a1a" stroke-width="1.3"/>
<path d="M634.50 503.12L634.50 498.48M632.49 501.96L636.51 499.64M632.49 499.64L636.51 501.96M640.60 503.12L640.60 498.48M638.59 501.96L642.61 499.64M638.59 499.64L642.61 501.96" stroke="#111" stroke-width="0.92" fill="none"/>
<line x1="620.40" y1="517.20" x2="671.80" y2="517.20" stroke="#1a1a1a" stroke-width="1.3"/>
<path d="M646.10 513.72L646.10 509.08M644.09 512.56L648.11 510.24M644.09 510.24L648.11 512.56" stroke="#111" stroke-width="0.92" fill="none"/>
<line x1="638.00" y1="527.70" x2="671.80" y2="527.70" stroke="#1a1a1a" stroke-width="1.3"/>
<path d="M654.90 523.92L654.90 519.28M652.89 522.76L656.91 520.44M652.89 520.44L656.91 522.76" stroke="#111" stroke-width="0.92" fill="none"/>
<text x="0" y="0" font-size="7.0" text-anchor="middle" fill="#444" color="#444" transform="translate(561.80 568.00) rotate(-90) scale(1 1.07)">Valeric acid</text>
<text x="0" y="0" font-size="7.05" text-anchor="middle" fill="#222" color="#222" transform="translate(569.90 568.40) rotate(-90) scale(1 1.07)">Concentration (μg / g feces)</text>
</svg>
</body></html>
